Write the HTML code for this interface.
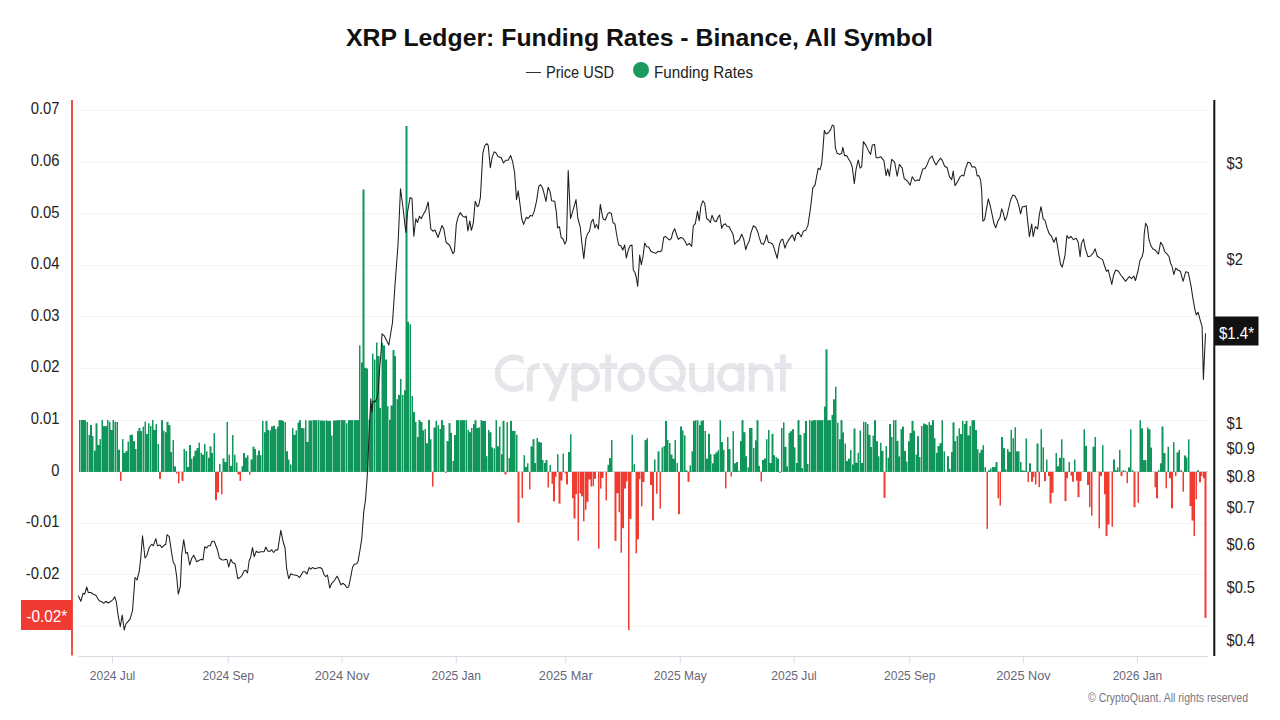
<!DOCTYPE html>
<html><head><meta charset="utf-8"><style>
html,body{margin:0;padding:0;background:#fff;width:1280px;height:720px;overflow:hidden}
svg{display:block}
text{font-family:"Liberation Sans",sans-serif}
</style></head><body>
<svg width="1280" height="720" viewBox="0 0 1280 720">
<rect width="1280" height="720" fill="#fff"/>
<text x="346" y="45.5" font-size="24.5" font-weight="bold" fill="#111" textLength="587" lengthAdjust="spacingAndGlyphs">XRP Ledger: Funding Rates - Binance, All Symbol</text>
<line x1="526" y1="72.5" x2="541" y2="72.5" stroke="#333" stroke-width="1"/>
<text x="546" y="77.5" font-size="16" fill="#222" textLength="68" lengthAdjust="spacingAndGlyphs">Price USD</text>
<circle cx="641" cy="70" r="8" fill="#1a9a5e"/>
<text x="654" y="77.5" font-size="16" fill="#222" textLength="99" lengthAdjust="spacingAndGlyphs">Funding Rates</text>
<g><line x1="78" y1="626.5" x2="1208" y2="626.5" stroke="#f4f4f4" stroke-width="1"/><line x1="78" y1="574.5" x2="1208" y2="574.5" stroke="#f4f4f4" stroke-width="1"/><line x1="78" y1="523.5" x2="1208" y2="523.5" stroke="#f4f4f4" stroke-width="1"/><line x1="78" y1="471.5" x2="1208" y2="471.5" stroke="#f4f4f4" stroke-width="1"/><line x1="78" y1="420.5" x2="1208" y2="420.5" stroke="#f4f4f4" stroke-width="1"/><line x1="78" y1="368.5" x2="1208" y2="368.5" stroke="#f4f4f4" stroke-width="1"/><line x1="78" y1="316.5" x2="1208" y2="316.5" stroke="#f4f4f4" stroke-width="1"/><line x1="78" y1="265.5" x2="1208" y2="265.5" stroke="#f4f4f4" stroke-width="1"/><line x1="78" y1="213.5" x2="1208" y2="213.5" stroke="#f4f4f4" stroke-width="1"/><line x1="78" y1="162.5" x2="1208" y2="162.5" stroke="#f4f4f4" stroke-width="1"/><line x1="78" y1="110.5" x2="1208" y2="110.5" stroke="#f4f4f4" stroke-width="1"/></g>
<g opacity="0.37"><defs><clipPath id="cc"><rect x="480" y="340" width="43.4" height="70"/></clipPath><clipPath id="yc"><rect x="535" y="363" width="40" height="38.2"/></clipPath></defs><g fill="none" stroke="#b9b9c9" stroke-width="5.8"><path d="M529.85,391.5V375C529.85,368.5 533,365.9 539.5,365.9M574.55,363V401.2M585.5,365.6A11.6,11.6 0 1 1 585.5,388.8A11.6,11.6 0 1 1 585.5,365.6M608.05,354.4V391.5M599.6,365.8H617.2M631.3,365.5A10.9,11.7 0 1 1 631.3,388.9A10.9,11.7 0 1 1 631.3,365.5M667.2,357.5A15.7,15.7 0 1 1 667.2,388.9A15.7,15.7 0 1 1 667.2,357.5M692.1,363V380A9.45,9.45 0 0 0 711,380M711,363V391.5M741.25,362.9V391.5M730.9,365.8A10.9,11.5 0 1 0 730.9,388.8A10.9,11.5 0 1 0 730.9,365.8M751.7,363V391.5M751.7,376A9.35,9.35 0 0 1 770.4,376V391.5M782.9,354.6V391.5M774.6,365.8H791.7"/><path d="M526.40,364.13A15.85,15.85 0 1 0 526.40,382.27" clip-path="url(#cc)"/><path d="M569.2,355.4L549.5,405M541.7,356.2L557.6,385.5" clip-path="url(#yc)"/></g><path d="M664.1,375.9H671.9L686.5,391.4H678.8Z" fill="#b9b9c9"/></g>
<line x1="78.5" y1="656.5" x2="1208" y2="656.5" stroke="#d8d8e2" stroke-width="1.2"/>
<line x1="112.5" y1="656.5" x2="112.5" y2="663.5" stroke="#dcdce6" stroke-width="1"/><line x1="228.25" y1="656.5" x2="228.25" y2="663.5" stroke="#dcdce6" stroke-width="1"/><line x1="342" y1="656.5" x2="342" y2="663.5" stroke="#dcdce6" stroke-width="1"/><line x1="456.25" y1="656.5" x2="456.25" y2="663.5" stroke="#dcdce6" stroke-width="1"/><line x1="565.75" y1="656.5" x2="565.75" y2="663.5" stroke="#dcdce6" stroke-width="1"/><line x1="680.25" y1="656.5" x2="680.25" y2="663.5" stroke="#dcdce6" stroke-width="1"/><line x1="794" y1="656.5" x2="794" y2="663.5" stroke="#dcdce6" stroke-width="1"/><line x1="909.75" y1="656.5" x2="909.75" y2="663.5" stroke="#dcdce6" stroke-width="1"/><line x1="1023.4" y1="656.5" x2="1023.4" y2="663.5" stroke="#dcdce6" stroke-width="1"/><line x1="1137.4" y1="656.5" x2="1137.4" y2="663.5" stroke="#dcdce6" stroke-width="1"/>
<g font-size="13" fill="#66667a" text-anchor="middle"><text x="112.5" y="680" textLength="45.5" lengthAdjust="spacingAndGlyphs">2024 Jul</text><text x="228.25" y="680" textLength="51.5" lengthAdjust="spacingAndGlyphs">2024 Sep</text><text x="342" y="680" textLength="54.5" lengthAdjust="spacingAndGlyphs">2024 Nov</text><text x="456.25" y="680" textLength="49.5" lengthAdjust="spacingAndGlyphs">2025 Jan</text><text x="565.75" y="680" textLength="53.8" lengthAdjust="spacingAndGlyphs">2025 Mar</text><text x="680.25" y="680" textLength="52.8" lengthAdjust="spacingAndGlyphs">2025 May</text><text x="794" y="680" textLength="45.5" lengthAdjust="spacingAndGlyphs">2025 Jul</text><text x="909.75" y="680" textLength="51.5" lengthAdjust="spacingAndGlyphs">2025 Sep</text><text x="1023.4" y="680" textLength="54.5" lengthAdjust="spacingAndGlyphs">2025 Nov</text><text x="1137.4" y="680" textLength="49.5" lengthAdjust="spacingAndGlyphs">2026 Jan</text></g>
<g font-size="16" fill="#222"><text x="59.5" y="630.4" text-anchor="end" textLength="33.7" lengthAdjust="spacingAndGlyphs">-0.03</text><text x="59.5" y="578.8" text-anchor="end" textLength="33.7" lengthAdjust="spacingAndGlyphs">-0.02</text><text x="59.5" y="527.2" text-anchor="end" textLength="33.7" lengthAdjust="spacingAndGlyphs">-0.01</text><text x="59.5" y="475.6" text-anchor="end" textLength="8.2" lengthAdjust="spacingAndGlyphs">0</text><text x="59.5" y="424.0" text-anchor="end" textLength="28.8" lengthAdjust="spacingAndGlyphs">0.01</text><text x="59.5" y="372.4" text-anchor="end" textLength="28.8" lengthAdjust="spacingAndGlyphs">0.02</text><text x="59.5" y="320.8" text-anchor="end" textLength="28.8" lengthAdjust="spacingAndGlyphs">0.03</text><text x="59.5" y="269.2" text-anchor="end" textLength="28.8" lengthAdjust="spacingAndGlyphs">0.04</text><text x="59.5" y="217.6" text-anchor="end" textLength="28.8" lengthAdjust="spacingAndGlyphs">0.05</text><text x="59.5" y="166.0" text-anchor="end" textLength="28.8" lengthAdjust="spacingAndGlyphs">0.06</text><text x="59.5" y="114.4" text-anchor="end" textLength="28.8" lengthAdjust="spacingAndGlyphs">0.07</text></g>
<g font-size="16" fill="#222"><text x="1226.5" y="168.8" textLength="16.3" lengthAdjust="spacingAndGlyphs">$3</text><text x="1226.5" y="264.8" textLength="16.3" lengthAdjust="spacingAndGlyphs">$2</text><text x="1226.5" y="428.9" textLength="16.3" lengthAdjust="spacingAndGlyphs">$1</text><text x="1226.5" y="453.8" textLength="28.5" lengthAdjust="spacingAndGlyphs">$0.9</text><text x="1226.5" y="481.7" textLength="28.5" lengthAdjust="spacingAndGlyphs">$0.8</text><text x="1226.5" y="513.3" textLength="28.5" lengthAdjust="spacingAndGlyphs">$0.7</text><text x="1226.5" y="549.8" textLength="28.5" lengthAdjust="spacingAndGlyphs">$0.6</text><text x="1226.5" y="592.9" textLength="28.5" lengthAdjust="spacingAndGlyphs">$0.5</text><text x="1226.5" y="645.7" textLength="28.5" lengthAdjust="spacingAndGlyphs">$0.4</text></g>
<line x1="78.5" y1="471.5" x2="1208" y2="471.5" stroke="#d9d9e5" stroke-width="1"/>
<g fill="#10955a"><rect x="79" y="420.0" width="1" height="51.9"/><rect x="80" y="420.0" width="1" height="51.9" fill-opacity="0.50"/><rect x="81" y="420.0" width="1" height="51.9"/><rect x="82" y="420.0" width="1" height="51.9"/><rect x="83" y="420.0" width="1" height="51.9"/><rect x="84" y="420.0" width="1" height="0.2" fill-opacity="0.50"/><rect x="84" y="420.2" width="1" height="51.7"/><rect x="85" y="420.2" width="1" height="51.7"/><rect x="86" y="422.0" width="1" height="49.9" fill-opacity="0.50"/><rect x="87" y="422.0" width="1" height="49.9"/><rect x="88" y="435.0" width="1" height="36.9" fill-opacity="0.50"/><rect x="89" y="435.0" width="1" height="36.9"/><rect x="90" y="425.0" width="1" height="46.9"/><rect x="91" y="425.0" width="1" height="46.9"/><rect x="92" y="436.1" width="1" height="35.8"/><rect x="93" y="436.1" width="1" height="35.8" fill-opacity="0.50"/><rect x="94" y="450.6" width="1" height="21.3"/><rect x="95" y="423.3" width="1" height="27.2" fill-opacity="0.50"/><rect x="95" y="450.6" width="1" height="21.3"/><rect x="96" y="423.3" width="1" height="48.6"/><rect x="97" y="423.3" width="1" height="21.7" fill-opacity="0.50"/><rect x="97" y="445.0" width="1" height="26.9"/><rect x="98" y="445.0" width="1" height="26.9"/><rect x="99" y="439.1" width="1" height="5.9" fill-opacity="0.50"/><rect x="99" y="445.0" width="1" height="26.9"/><rect x="100" y="439.1" width="1" height="32.8"/><rect x="101" y="420.0" width="1" height="51.9" fill-opacity="0.50"/><rect x="102" y="420.0" width="1" height="51.9"/><rect x="103" y="426.1" width="1" height="45.8"/><rect x="104" y="426.1" width="1" height="45.8"/><rect x="105" y="426.1" width="1" height="45.8"/><rect x="106" y="426.1" width="1" height="45.8"/><rect x="107" y="420.0" width="1" height="51.9"/><rect x="108" y="420.0" width="1" height="51.9" fill-opacity="0.50"/><rect x="109" y="421.7" width="1" height="50.2"/><rect x="110" y="421.7" width="1" height="8.3" fill-opacity="0.50"/><rect x="110" y="430.0" width="1" height="41.9"/><rect x="111" y="430.0" width="1" height="41.9"/><rect x="112" y="420.0" width="1" height="10.0" fill-opacity="0.50"/><rect x="112" y="430.0" width="1" height="41.9"/><rect x="113" y="420.0" width="1" height="51.9"/><rect x="114" y="421.7" width="1" height="50.2" fill-opacity="0.50"/><rect x="115" y="421.7" width="1" height="50.2"/><rect x="116" y="422.0" width="1" height="49.9" fill-opacity="0.50"/><rect x="117" y="422.0" width="1" height="49.9"/><rect x="118" y="449.8" width="1" height="22.1"/><rect x="119" y="449.8" width="1" height="22.1"/><rect x="122" y="439.1" width="1" height="32.8"/><rect x="123" y="439.1" width="1" height="13.7" fill-opacity="0.50"/><rect x="123" y="452.8" width="1" height="19.1"/><rect x="124" y="452.8" width="1" height="19.1"/><rect x="125" y="451.1" width="1" height="1.7" fill-opacity="0.50"/><rect x="125" y="452.8" width="1" height="19.1"/><rect x="126" y="451.1" width="1" height="20.8"/><rect x="127" y="441.7" width="1" height="9.4" fill-opacity="0.50"/><rect x="127" y="451.1" width="1" height="20.8"/><rect x="128" y="441.7" width="1" height="30.2"/><rect x="129" y="435.0" width="1" height="36.9" fill-opacity="0.50"/><rect x="130" y="435.0" width="1" height="36.9"/><rect x="131" y="434.7" width="1" height="37.2"/><rect x="132" y="434.7" width="1" height="37.2"/><rect x="133" y="441.1" width="1" height="30.8"/><rect x="134" y="441.1" width="1" height="30.8"/><rect x="135" y="448.9" width="1" height="23.0"/><rect x="136" y="448.9" width="1" height="23.0" fill-opacity="0.50"/><rect x="137" y="431.1" width="1" height="40.8"/><rect x="138" y="428.0" width="1" height="3.1" fill-opacity="0.50"/><rect x="138" y="431.1" width="1" height="40.8"/><rect x="139" y="428.0" width="1" height="43.9"/><rect x="140" y="428.0" width="1" height="3.1" fill-opacity="0.50"/><rect x="140" y="431.1" width="1" height="40.8"/><rect x="141" y="431.1" width="1" height="40.8"/><rect x="142" y="426.7" width="1" height="45.2" fill-opacity="0.50"/><rect x="143" y="426.7" width="1" height="45.2"/><rect x="144" y="421.7" width="1" height="50.2" fill-opacity="0.50"/><rect x="145" y="421.7" width="1" height="50.2"/><rect x="146" y="433.9" width="1" height="38.0"/><rect x="147" y="433.9" width="1" height="38.0"/><rect x="148" y="423.3" width="1" height="48.6"/><rect x="149" y="423.3" width="1" height="48.6" fill-opacity="0.50"/><rect x="150" y="426.0" width="1" height="45.9"/><rect x="151" y="426.0" width="1" height="45.9" fill-opacity="0.50"/><rect x="152" y="420.0" width="1" height="51.9"/><rect x="153" y="420.0" width="1" height="9.9" fill-opacity="0.50"/><rect x="153" y="429.9" width="1" height="42.0"/><rect x="154" y="429.9" width="1" height="42.0"/><rect x="155" y="424.1" width="1" height="5.8" fill-opacity="0.50"/><rect x="155" y="429.9" width="1" height="42.0"/><rect x="156" y="424.1" width="1" height="47.8"/><rect x="157" y="444.0" width="1" height="27.9" fill-opacity="0.50"/><rect x="158" y="444.0" width="1" height="27.9"/><rect x="161" y="420.2" width="1" height="51.7"/><rect x="162" y="420.2" width="1" height="51.7"/><rect x="163" y="430.6" width="1" height="41.3"/><rect x="164" y="430.6" width="1" height="41.3" fill-opacity="0.50"/><rect x="165" y="432.2" width="1" height="39.7"/><rect x="166" y="421.9" width="1" height="10.3" fill-opacity="0.50"/><rect x="166" y="432.2" width="1" height="39.7"/><rect x="167" y="421.9" width="1" height="50.0"/><rect x="168" y="421.9" width="1" height="3.2" fill-opacity="0.50"/><rect x="168" y="425.1" width="1" height="46.8"/><rect x="169" y="425.1" width="1" height="46.8"/><rect x="170" y="425.1" width="1" height="26.9" fill-opacity="0.50"/><rect x="170" y="452.0" width="1" height="19.9"/><rect x="171" y="452.0" width="1" height="19.9"/><rect x="172" y="440.1" width="1" height="31.8" fill-opacity="0.50"/><rect x="173" y="440.1" width="1" height="31.8"/><rect x="174" y="466.4" width="1" height="5.5"/><rect x="175" y="466.4" width="1" height="5.5"/><rect x="183" y="448.9" width="1" height="23.0" fill-opacity="0.50"/><rect x="184" y="448.9" width="1" height="23.0"/><rect x="185" y="451.0" width="1" height="20.9" fill-opacity="0.50"/><rect x="186" y="451.0" width="1" height="20.9"/><rect x="187" y="466.9" width="1" height="5.0"/><rect x="188" y="466.9" width="1" height="5.0"/><rect x="189" y="445.0" width="1" height="26.9"/><rect x="190" y="445.0" width="1" height="26.9"/><rect x="191" y="458.6" width="1" height="13.3"/><rect x="192" y="458.6" width="1" height="13.3" fill-opacity="0.50"/><rect x="193" y="456.2" width="1" height="15.7"/><rect x="194" y="450.6" width="1" height="5.5" fill-opacity="0.50"/><rect x="194" y="456.2" width="1" height="15.7"/><rect x="195" y="450.6" width="1" height="21.3"/><rect x="196" y="448.1" width="1" height="2.5" fill-opacity="0.50"/><rect x="196" y="450.6" width="1" height="21.3"/><rect x="197" y="448.1" width="1" height="23.8"/><rect x="198" y="442.6" width="1" height="5.5" fill-opacity="0.50"/><rect x="198" y="448.1" width="1" height="23.8"/><rect x="199" y="442.6" width="1" height="29.3"/><rect x="200" y="452.8" width="1" height="19.1" fill-opacity="0.50"/><rect x="201" y="452.8" width="1" height="19.1"/><rect x="202" y="454.7" width="1" height="17.2"/><rect x="203" y="454.7" width="1" height="17.2"/><rect x="204" y="444.0" width="1" height="27.9"/><rect x="205" y="444.0" width="1" height="27.9" fill-opacity="0.50"/><rect x="206" y="451.3" width="1" height="20.6"/><rect x="207" y="451.3" width="1" height="20.6" fill-opacity="0.50"/><rect x="208" y="457.8" width="1" height="14.1"/><rect x="209" y="446.4" width="1" height="11.4" fill-opacity="0.50"/><rect x="209" y="457.8" width="1" height="14.1"/><rect x="210" y="446.4" width="1" height="25.5"/><rect x="211" y="446.4" width="1" height="6.5" fill-opacity="0.50"/><rect x="211" y="453.0" width="1" height="18.9"/><rect x="212" y="453.0" width="1" height="18.9"/><rect x="213" y="433.1" width="1" height="38.8" fill-opacity="0.50"/><rect x="214" y="433.1" width="1" height="38.8"/><rect x="219" y="463.9" width="1" height="8.0"/><rect x="220" y="463.9" width="1" height="8.0" fill-opacity="0.50"/><rect x="222" y="458.4" width="1" height="13.5" fill-opacity="0.50"/><rect x="223" y="458.4" width="1" height="13.5"/><rect x="224" y="458.4" width="1" height="3.6" fill-opacity="0.50"/><rect x="224" y="462.0" width="1" height="9.9"/><rect x="225" y="462.0" width="1" height="9.9"/><rect x="226" y="421.9" width="1" height="40.1" fill-opacity="0.50"/><rect x="226" y="462.0" width="1" height="9.9"/><rect x="227" y="421.9" width="1" height="50.0"/><rect x="228" y="454.7" width="1" height="17.2" fill-opacity="0.50"/><rect x="229" y="454.7" width="1" height="17.2"/><rect x="230" y="465.9" width="1" height="6.0"/><rect x="231" y="465.9" width="1" height="6.0"/><rect x="232" y="435.1" width="1" height="36.8"/><rect x="233" y="435.1" width="1" height="36.8" fill-opacity="0.50"/><rect x="234" y="454.7" width="1" height="17.2"/><rect x="235" y="454.7" width="1" height="17.2" fill-opacity="0.50"/><rect x="236" y="462.5" width="1" height="9.4"/><rect x="237" y="462.5" width="1" height="9.4" fill-opacity="0.50"/><rect x="241" y="466.2" width="1" height="5.7" fill-opacity="0.50"/><rect x="242" y="466.2" width="1" height="5.7"/><rect x="243" y="453.0" width="1" height="18.9"/><rect x="244" y="453.0" width="1" height="18.9"/><rect x="245" y="457.6" width="1" height="14.3"/><rect x="246" y="457.6" width="1" height="14.3"/><rect x="247" y="455.2" width="1" height="16.7"/><rect x="248" y="455.2" width="1" height="16.7" fill-opacity="0.50"/><rect x="250" y="459.4" width="1" height="12.5" fill-opacity="0.50"/><rect x="251" y="459.4" width="1" height="12.5"/><rect x="252" y="446.7" width="1" height="12.6" fill-opacity="0.50"/><rect x="252" y="459.4" width="1" height="12.5"/><rect x="253" y="446.7" width="1" height="25.2"/><rect x="254" y="446.7" width="1" height="2.1" fill-opacity="0.50"/><rect x="254" y="448.9" width="1" height="23.0"/><rect x="255" y="448.9" width="1" height="23.0"/><rect x="256" y="455.2" width="1" height="16.7" fill-opacity="0.50"/><rect x="257" y="455.2" width="1" height="16.7"/><rect x="258" y="450.6" width="1" height="21.3"/><rect x="259" y="450.6" width="1" height="21.3"/><rect x="260" y="455.2" width="1" height="16.7"/><rect x="261" y="455.2" width="1" height="16.7" fill-opacity="0.50"/><rect x="262" y="420.9" width="1" height="51.0"/><rect x="263" y="420.9" width="1" height="51.0" fill-opacity="0.50"/><rect x="264" y="432.2" width="1" height="39.7"/><rect x="265" y="420.9" width="1" height="11.3" fill-opacity="0.50"/><rect x="265" y="432.2" width="1" height="39.7"/><rect x="266" y="420.9" width="1" height="51.0"/><rect x="267" y="420.9" width="1" height="9.0" fill-opacity="0.50"/><rect x="267" y="429.9" width="1" height="42.0"/><rect x="268" y="429.9" width="1" height="42.0"/><rect x="269" y="430.4" width="1" height="41.5" fill-opacity="0.50"/><rect x="270" y="430.4" width="1" height="41.5"/><rect x="271" y="426.5" width="1" height="45.4"/><rect x="272" y="426.5" width="1" height="45.4"/><rect x="273" y="425.7" width="1" height="46.2"/><rect x="274" y="425.7" width="1" height="46.2"/><rect x="275" y="429.0" width="1" height="42.9"/><rect x="276" y="429.0" width="1" height="42.9" fill-opacity="0.50"/><rect x="277" y="426.7" width="1" height="45.2"/><rect x="278" y="420.2" width="1" height="6.5" fill-opacity="0.50"/><rect x="278" y="426.7" width="1" height="45.2"/><rect x="279" y="420.2" width="1" height="51.7"/><rect x="280" y="420.2" width="1" height="51.7"/><rect x="281" y="420.2" width="1" height="51.7"/><rect x="282" y="420.2" width="1" height="0.7" fill-opacity="0.50"/><rect x="282" y="420.9" width="1" height="51.0"/><rect x="283" y="420.9" width="1" height="51.0"/><rect x="284" y="422.1" width="1" height="49.8" fill-opacity="0.50"/><rect x="285" y="422.1" width="1" height="49.8"/><rect x="286" y="451.3" width="1" height="20.6"/><rect x="287" y="451.3" width="1" height="20.6"/><rect x="288" y="459.6" width="1" height="12.3"/><rect x="289" y="459.6" width="1" height="12.3" fill-opacity="0.50"/><rect x="290" y="464.4" width="1" height="7.5"/><rect x="291" y="464.4" width="1" height="7.5" fill-opacity="0.50"/><rect x="292" y="428.0" width="1" height="43.9"/><rect x="293" y="428.0" width="1" height="6.8" fill-opacity="0.50"/><rect x="293" y="434.8" width="1" height="37.1"/><rect x="294" y="434.8" width="1" height="37.1"/><rect x="295" y="430.4" width="1" height="4.4" fill-opacity="0.50"/><rect x="295" y="434.8" width="1" height="37.1"/><rect x="296" y="430.4" width="1" height="41.5"/><rect x="297" y="422.6" width="1" height="49.3" fill-opacity="0.50"/><rect x="298" y="422.6" width="1" height="49.3"/><rect x="299" y="420.2" width="1" height="51.7"/><rect x="300" y="420.2" width="1" height="51.7"/><rect x="301" y="428.0" width="1" height="43.9"/><rect x="302" y="428.0" width="1" height="43.9"/><rect x="303" y="428.3" width="1" height="43.6"/><rect x="304" y="428.3" width="1" height="43.6" fill-opacity="0.50"/><rect x="305" y="420.2" width="1" height="51.7"/><rect x="306" y="420.2" width="1" height="21.7" fill-opacity="0.50"/><rect x="306" y="441.9" width="1" height="30.0"/><rect x="307" y="441.9" width="1" height="30.0"/><rect x="308" y="420.5" width="1" height="21.4" fill-opacity="0.50"/><rect x="308" y="441.9" width="1" height="30.0"/><rect x="309" y="420.5" width="1" height="51.4"/><rect x="310" y="420.5" width="1" height="51.4"/><rect x="311" y="420.5" width="1" height="51.4"/><rect x="312" y="420.2" width="1" height="51.7" fill-opacity="0.50"/><rect x="313" y="420.2" width="1" height="51.7"/><rect x="314" y="420.2" width="1" height="51.7"/><rect x="315" y="420.2" width="1" height="51.7"/><rect x="316" y="420.2" width="1" height="51.7"/><rect x="317" y="420.2" width="1" height="51.7" fill-opacity="0.50"/><rect x="318" y="420.2" width="1" height="51.7"/><rect x="319" y="420.2" width="1" height="51.7" fill-opacity="0.50"/><rect x="320" y="420.5" width="1" height="51.4"/><rect x="321" y="420.5" width="1" height="51.4"/><rect x="322" y="420.5" width="1" height="51.4"/><rect x="323" y="420.5" width="1" height="0.4" fill-opacity="0.50"/><rect x="323" y="420.9" width="1" height="51.0"/><rect x="324" y="420.9" width="1" height="51.0"/><rect x="325" y="420.2" width="1" height="51.7" fill-opacity="0.50"/><rect x="326" y="420.2" width="1" height="51.7"/><rect x="327" y="420.9" width="1" height="51.0"/><rect x="328" y="420.9" width="1" height="51.0"/><rect x="329" y="420.9" width="1" height="51.0"/><rect x="330" y="420.9" width="1" height="51.0"/><rect x="331" y="435.5" width="1" height="36.4"/><rect x="332" y="435.5" width="1" height="36.4" fill-opacity="0.50"/><rect x="333" y="420.5" width="1" height="51.4"/><rect x="334" y="420.5" width="1" height="51.4"/><rect x="335" y="420.5" width="1" height="51.4"/><rect x="336" y="420.2" width="1" height="0.3" fill-opacity="0.50"/><rect x="336" y="420.5" width="1" height="51.4"/><rect x="337" y="420.2" width="1" height="51.7"/><rect x="338" y="420.2" width="1" height="51.7"/><rect x="339" y="420.2" width="1" height="51.7"/><rect x="340" y="420.1" width="1" height="51.8" fill-opacity="0.50"/><rect x="341" y="420.1" width="1" height="51.8"/><rect x="342" y="420.1" width="1" height="51.8"/><rect x="343" y="420.1" width="1" height="51.8"/><rect x="344" y="420.1" width="1" height="51.8"/><rect x="345" y="420.1" width="1" height="51.8" fill-opacity="0.50"/><rect x="346" y="423.2" width="1" height="48.7"/><rect x="347" y="423.2" width="1" height="48.7" fill-opacity="0.50"/><rect x="348" y="420.1" width="1" height="51.8"/><rect x="349" y="420.1" width="1" height="51.8"/><rect x="350" y="420.1" width="1" height="51.8"/><rect x="351" y="420.1" width="1" height="51.8"/><rect x="352" y="420.1" width="1" height="51.8"/><rect x="353" y="420.1" width="1" height="51.8" fill-opacity="0.50"/><rect x="354" y="420.1" width="1" height="51.8"/><rect x="355" y="420.1" width="1" height="51.8"/><rect x="356" y="420.1" width="1" height="51.8"/><rect x="357" y="420.1" width="1" height="51.8"/><rect x="358" y="420.1" width="1" height="51.8"/><rect x="359" y="345.4" width="1" height="126.5"/><rect x="360" y="345.4" width="1" height="126.5" fill-opacity="0.50"/><rect x="361" y="362.4" width="1" height="109.5"/><rect x="362" y="189.5" width="1" height="172.9" fill-opacity="0.50"/><rect x="362" y="362.4" width="1" height="109.5"/><rect x="363" y="189.5" width="1" height="282.4"/><rect x="364" y="189.5" width="1" height="178.3" fill-opacity="0.50"/><rect x="364" y="367.8" width="1" height="104.1"/><rect x="365" y="367.8" width="1" height="104.1"/><rect x="366" y="367.8" width="1" height="0.7" fill-opacity="0.50"/><rect x="366" y="368.5" width="1" height="103.4"/><rect x="367" y="368.5" width="1" height="103.4"/><rect x="368" y="419.7" width="1" height="52.2" fill-opacity="0.50"/><rect x="369" y="419.7" width="1" height="52.2"/><rect x="370" y="404.3" width="1" height="67.6"/><rect x="371" y="404.3" width="1" height="67.6"/><rect x="372" y="353.6" width="1" height="118.3"/><rect x="373" y="353.6" width="1" height="118.3" fill-opacity="0.50"/><rect x="374" y="359.5" width="1" height="112.4"/><rect x="375" y="359.5" width="1" height="112.4" fill-opacity="0.50"/><rect x="376" y="342.5" width="1" height="129.4"/><rect x="377" y="342.5" width="1" height="13.4" fill-opacity="0.50"/><rect x="377" y="356.0" width="1" height="115.9"/><rect x="378" y="356.0" width="1" height="115.9"/><rect x="379" y="356.0" width="1" height="51.9" fill-opacity="0.50"/><rect x="379" y="407.9" width="1" height="64.0"/><rect x="380" y="407.9" width="1" height="64.0"/><rect x="381" y="343.0" width="1" height="128.9" fill-opacity="0.50"/><rect x="382" y="343.0" width="1" height="128.9"/><rect x="383" y="345.4" width="1" height="126.5"/><rect x="384" y="345.4" width="1" height="126.5"/><rect x="385" y="359.5" width="1" height="112.4"/><rect x="386" y="359.5" width="1" height="112.4"/><rect x="387" y="406.2" width="1" height="65.7"/><rect x="388" y="406.2" width="1" height="65.7" fill-opacity="0.50"/><rect x="389" y="419.7" width="1" height="52.2"/><rect x="390" y="405.5" width="1" height="14.2" fill-opacity="0.50"/><rect x="390" y="419.7" width="1" height="52.2"/><rect x="391" y="405.5" width="1" height="66.4"/><rect x="392" y="350.1" width="1" height="55.4" fill-opacity="0.50"/><rect x="392" y="405.5" width="1" height="66.4"/><rect x="393" y="350.1" width="1" height="121.8"/><rect x="394" y="350.1" width="1" height="5.9" fill-opacity="0.50"/><rect x="394" y="356.0" width="1" height="115.9"/><rect x="395" y="356.0" width="1" height="115.9"/><rect x="396" y="399.2" width="1" height="72.7" fill-opacity="0.50"/><rect x="397" y="399.2" width="1" height="72.7"/><rect x="398" y="394.9" width="1" height="77.0"/><rect x="399" y="394.9" width="1" height="77.0"/><rect x="400" y="378.9" width="1" height="93.0"/><rect x="401" y="378.9" width="1" height="93.0" fill-opacity="0.50"/><rect x="402" y="394.9" width="1" height="77.0"/><rect x="403" y="394.9" width="1" height="77.0" fill-opacity="0.50"/><rect x="404" y="390.2" width="1" height="81.7"/><rect x="405" y="126.0" width="1" height="264.2" fill-opacity="0.50"/><rect x="405" y="390.2" width="1" height="81.7"/><rect x="406" y="126.0" width="1" height="345.9"/><rect x="407" y="126.0" width="1" height="195.8" fill-opacity="0.50"/><rect x="407" y="321.8" width="1" height="150.1"/><rect x="408" y="321.8" width="1" height="150.1"/><rect x="409" y="324.2" width="1" height="147.7" fill-opacity="0.50"/><rect x="410" y="324.2" width="1" height="147.7"/><rect x="411" y="396.1" width="1" height="75.8" fill-opacity="0.50"/><rect x="412" y="396.1" width="1" height="75.8"/><rect x="413" y="411.9" width="1" height="60.0"/><rect x="414" y="411.9" width="1" height="60.0"/><rect x="415" y="422.0" width="1" height="49.9"/><rect x="416" y="422.0" width="1" height="49.9" fill-opacity="0.50"/><rect x="417" y="436.9" width="1" height="35.0"/><rect x="418" y="420.1" width="1" height="16.7" fill-opacity="0.50"/><rect x="418" y="436.9" width="1" height="35.0"/><rect x="419" y="420.1" width="1" height="51.8"/><rect x="420" y="420.1" width="1" height="1.9" fill-opacity="0.50"/><rect x="420" y="422.0" width="1" height="49.9"/><rect x="421" y="422.0" width="1" height="49.9"/><rect x="422" y="422.0" width="1" height="8.3" fill-opacity="0.50"/><rect x="422" y="430.3" width="1" height="41.6"/><rect x="423" y="430.3" width="1" height="41.6"/><rect x="424" y="429.1" width="1" height="42.8" fill-opacity="0.50"/><rect x="425" y="429.1" width="1" height="42.8"/><rect x="426" y="443.3" width="1" height="28.6"/><rect x="427" y="443.3" width="1" height="28.6"/><rect x="428" y="420.1" width="1" height="51.8"/><rect x="429" y="420.1" width="1" height="51.8"/><rect x="430" y="439.2" width="1" height="32.7"/><rect x="431" y="439.2" width="1" height="32.7" fill-opacity="0.50"/><rect x="433" y="427.5" width="1" height="44.4" fill-opacity="0.50"/><rect x="434" y="427.5" width="1" height="44.4"/><rect x="435" y="420.8" width="1" height="6.6" fill-opacity="0.50"/><rect x="435" y="427.5" width="1" height="44.4"/><rect x="436" y="420.8" width="1" height="51.1"/><rect x="437" y="425.1" width="1" height="46.8" fill-opacity="0.50"/><rect x="438" y="425.1" width="1" height="46.8"/><rect x="439" y="429.0" width="1" height="42.9" fill-opacity="0.50"/><rect x="440" y="429.0" width="1" height="42.9"/><rect x="441" y="420.2" width="1" height="51.7"/><rect x="442" y="420.2" width="1" height="51.7"/><rect x="443" y="425.1" width="1" height="46.8"/><rect x="444" y="425.1" width="1" height="46.8" fill-opacity="0.50"/><rect x="446" y="441.1" width="1" height="30.8" fill-opacity="0.50"/><rect x="447" y="441.1" width="1" height="30.8"/><rect x="448" y="423.1" width="1" height="18.0" fill-opacity="0.50"/><rect x="448" y="441.1" width="1" height="30.8"/><rect x="449" y="423.1" width="1" height="48.8"/><rect x="450" y="423.1" width="1" height="9.7" fill-opacity="0.50"/><rect x="450" y="432.8" width="1" height="39.1"/><rect x="451" y="432.8" width="1" height="39.1"/><rect x="452" y="461.0" width="1" height="10.9" fill-opacity="0.50"/><rect x="453" y="461.0" width="1" height="10.9"/><rect x="454" y="435.1" width="1" height="36.8"/><rect x="455" y="435.1" width="1" height="36.8"/><rect x="456" y="420.2" width="1" height="51.7"/><rect x="457" y="420.2" width="1" height="51.7"/><rect x="458" y="420.2" width="1" height="51.7"/><rect x="459" y="420.2" width="1" height="51.7" fill-opacity="0.50"/><rect x="460" y="420.2" width="1" height="51.7"/><rect x="461" y="420.2" width="1" height="51.7"/><rect x="462" y="420.2" width="1" height="51.7"/><rect x="463" y="420.2" width="1" height="51.7"/><rect x="464" y="420.2" width="1" height="51.7"/><rect x="465" y="420.2" width="1" height="51.7" fill-opacity="0.50"/><rect x="466" y="420.2" width="1" height="51.7"/><rect x="467" y="429.9" width="1" height="42.0" fill-opacity="0.50"/><rect x="468" y="429.9" width="1" height="42.0"/><rect x="469" y="432.2" width="1" height="39.7"/><rect x="470" y="432.2" width="1" height="39.7"/><rect x="471" y="428.0" width="1" height="43.9"/><rect x="472" y="428.0" width="1" height="43.9" fill-opacity="0.50"/><rect x="473" y="424.1" width="1" height="47.8"/><rect x="474" y="420.2" width="1" height="3.9" fill-opacity="0.50"/><rect x="474" y="424.1" width="1" height="47.8"/><rect x="475" y="420.2" width="1" height="51.7"/><rect x="476" y="420.2" width="1" height="7.8" fill-opacity="0.50"/><rect x="476" y="428.0" width="1" height="43.9"/><rect x="477" y="428.0" width="1" height="43.9"/><rect x="478" y="427.3" width="1" height="0.7" fill-opacity="0.50"/><rect x="478" y="428.0" width="1" height="43.9"/><rect x="479" y="427.3" width="1" height="44.6"/><rect x="480" y="420.2" width="1" height="51.7" fill-opacity="0.50"/><rect x="481" y="420.2" width="1" height="51.7"/><rect x="482" y="420.9" width="1" height="51.0"/><rect x="483" y="420.9" width="1" height="51.0"/><rect x="484" y="420.9" width="1" height="51.0"/><rect x="485" y="420.9" width="1" height="51.0"/><rect x="486" y="456.2" width="1" height="15.7"/><rect x="487" y="456.2" width="1" height="15.7" fill-opacity="0.50"/><rect x="488" y="429.9" width="1" height="42.0"/><rect x="489" y="429.9" width="1" height="2.2" fill-opacity="0.50"/><rect x="489" y="432.2" width="1" height="39.7"/><rect x="490" y="432.2" width="1" height="39.7"/><rect x="491" y="432.2" width="1" height="15.3" fill-opacity="0.50"/><rect x="491" y="447.4" width="1" height="24.5"/><rect x="492" y="447.4" width="1" height="24.5"/><rect x="493" y="448.4" width="1" height="23.5" fill-opacity="0.50"/><rect x="494" y="448.4" width="1" height="23.5"/><rect x="495" y="420.2" width="1" height="51.7" fill-opacity="0.50"/><rect x="496" y="420.2" width="1" height="51.7"/><rect x="497" y="446.2" width="1" height="25.7"/><rect x="498" y="446.2" width="1" height="25.7"/><rect x="499" y="426.5" width="1" height="45.4"/><rect x="500" y="426.5" width="1" height="45.4" fill-opacity="0.50"/><rect x="501" y="454.2" width="1" height="17.7"/><rect x="502" y="420.9" width="1" height="33.3" fill-opacity="0.50"/><rect x="502" y="454.2" width="1" height="17.7"/><rect x="503" y="420.9" width="1" height="51.0"/><rect x="504" y="420.9" width="1" height="51.0" fill-opacity="0.50"/><rect x="506" y="422.1" width="1" height="49.8" fill-opacity="0.50"/><rect x="507" y="422.1" width="1" height="49.8"/><rect x="508" y="458.1" width="1" height="13.8" fill-opacity="0.50"/><rect x="509" y="458.1" width="1" height="13.8"/><rect x="510" y="420.9" width="1" height="51.0"/><rect x="511" y="420.9" width="1" height="51.0"/><rect x="512" y="430.9" width="1" height="41.0"/><rect x="513" y="430.9" width="1" height="41.0"/><rect x="514" y="430.9" width="1" height="41.0"/><rect x="515" y="430.9" width="1" height="41.0" fill-opacity="0.50"/><rect x="516" y="434.8" width="1" height="37.1"/><rect x="517" y="434.8" width="1" height="37.1" fill-opacity="0.50"/><rect x="523" y="455.2" width="1" height="16.7" fill-opacity="0.50"/><rect x="524" y="455.2" width="1" height="16.7"/><rect x="525" y="466.9" width="1" height="5.0"/><rect x="526" y="466.9" width="1" height="5.0"/><rect x="527" y="463.3" width="1" height="8.6"/><rect x="528" y="463.3" width="1" height="8.6" fill-opacity="0.50"/><rect x="530" y="446.4" width="1" height="25.5" fill-opacity="0.50"/><rect x="531" y="446.4" width="1" height="25.5"/><rect x="532" y="439.2" width="1" height="7.3" fill-opacity="0.50"/><rect x="532" y="446.4" width="1" height="25.5"/><rect x="533" y="439.2" width="1" height="32.7"/><rect x="534" y="439.2" width="1" height="23.8" fill-opacity="0.50"/><rect x="534" y="463.0" width="1" height="8.9"/><rect x="535" y="463.0" width="1" height="8.9"/><rect x="536" y="438.0" width="1" height="33.9" fill-opacity="0.50"/><rect x="537" y="438.0" width="1" height="33.9"/><rect x="538" y="441.9" width="1" height="30.0"/><rect x="539" y="441.9" width="1" height="30.0"/><rect x="540" y="442.6" width="1" height="29.3"/><rect x="541" y="442.6" width="1" height="29.3"/><rect x="542" y="460.0" width="1" height="11.9"/><rect x="543" y="460.0" width="1" height="11.9" fill-opacity="0.50"/><rect x="544" y="463.0" width="1" height="8.9"/><rect x="545" y="460.0" width="1" height="2.9" fill-opacity="0.50"/><rect x="545" y="463.0" width="1" height="8.9"/><rect x="546" y="460.0" width="1" height="11.9"/><rect x="547" y="460.0" width="1" height="11.9" fill-opacity="0.50"/><rect x="549" y="464.9" width="1" height="7.0" fill-opacity="0.50"/><rect x="550" y="464.9" width="1" height="7.0"/><rect x="557" y="454.2" width="1" height="17.7"/><rect x="558" y="454.2" width="1" height="17.7" fill-opacity="0.50"/><rect x="562" y="453.7" width="1" height="18.2" fill-opacity="0.50"/><rect x="563" y="453.7" width="1" height="18.2"/><rect x="568" y="452.0" width="1" height="19.9"/><rect x="569" y="452.0" width="1" height="19.9"/><rect x="570" y="434.3" width="1" height="37.6"/><rect x="571" y="434.3" width="1" height="37.6" fill-opacity="0.50"/><rect x="607" y="464.9" width="1" height="7.0" fill-opacity="0.50"/><rect x="608" y="464.9" width="1" height="7.0"/><rect x="609" y="458.1" width="1" height="13.8"/><rect x="610" y="458.1" width="1" height="13.8"/><rect x="611" y="440.1" width="1" height="31.8"/><rect x="612" y="440.1" width="1" height="31.8" fill-opacity="0.50"/><rect x="631" y="434.8" width="1" height="37.1" fill-opacity="0.50"/><rect x="632" y="434.8" width="1" height="37.1"/><rect x="633" y="464.2" width="1" height="7.7" fill-opacity="0.50"/><rect x="634" y="464.2" width="1" height="7.7"/><rect x="644" y="440.1" width="1" height="31.8" fill-opacity="0.50"/><rect x="645" y="440.1" width="1" height="31.8"/><rect x="646" y="438.2" width="1" height="1.9" fill-opacity="0.50"/><rect x="646" y="440.1" width="1" height="31.8"/><rect x="647" y="438.2" width="1" height="33.7"/><rect x="654" y="459.4" width="1" height="12.5"/><rect x="655" y="459.4" width="1" height="12.5" fill-opacity="0.50"/><rect x="657" y="451.3" width="1" height="20.6" fill-opacity="0.50"/><rect x="658" y="451.3" width="1" height="20.6"/><rect x="659" y="451.3" width="1" height="20.6" fill-opacity="0.50"/><rect x="661" y="447.4" width="1" height="24.5" fill-opacity="0.50"/><rect x="662" y="447.4" width="1" height="24.5"/><rect x="663" y="446.0" width="1" height="25.9" fill-opacity="0.50"/><rect x="664" y="446.0" width="1" height="25.9"/><rect x="665" y="420.9" width="1" height="51.0"/><rect x="666" y="420.9" width="1" height="51.0"/><rect x="667" y="440.1" width="1" height="31.8"/><rect x="668" y="440.1" width="1" height="31.8" fill-opacity="0.50"/><rect x="669" y="443.0" width="1" height="28.9"/><rect x="670" y="443.0" width="1" height="11.5" fill-opacity="0.50"/><rect x="670" y="454.5" width="1" height="17.4"/><rect x="671" y="454.5" width="1" height="17.4"/><rect x="672" y="454.5" width="1" height="4.1" fill-opacity="0.50"/><rect x="672" y="458.6" width="1" height="13.3"/><rect x="673" y="458.6" width="1" height="13.3"/><rect x="674" y="440.1" width="1" height="18.5" fill-opacity="0.50"/><rect x="674" y="458.6" width="1" height="13.3"/><rect x="675" y="440.1" width="1" height="31.8"/><rect x="676" y="463.0" width="1" height="8.9" fill-opacity="0.50"/><rect x="677" y="463.0" width="1" height="8.9"/><rect x="680" y="426.5" width="1" height="45.4"/><rect x="681" y="426.5" width="1" height="45.4"/><rect x="682" y="430.4" width="1" height="41.5"/><rect x="683" y="430.4" width="1" height="41.5" fill-opacity="0.50"/><rect x="684" y="435.3" width="1" height="36.6"/><rect x="685" y="435.3" width="1" height="35.0" fill-opacity="0.50"/><rect x="685" y="470.3" width="1" height="1.6"/><rect x="686" y="470.3" width="1" height="1.6"/><rect x="687" y="470.3" width="1" height="1.6" fill-opacity="0.50"/><rect x="689" y="465.4" width="1" height="6.5" fill-opacity="0.50"/><rect x="690" y="465.4" width="1" height="6.5"/><rect x="691" y="451.3" width="1" height="20.6" fill-opacity="0.50"/><rect x="692" y="451.3" width="1" height="20.6"/><rect x="693" y="420.9" width="1" height="51.0"/><rect x="694" y="420.9" width="1" height="51.0"/><rect x="695" y="420.2" width="1" height="51.7"/><rect x="696" y="420.2" width="1" height="51.7" fill-opacity="0.50"/><rect x="697" y="420.2" width="1" height="51.7"/><rect x="698" y="420.2" width="1" height="51.7" fill-opacity="0.50"/><rect x="699" y="425.1" width="1" height="46.8"/><rect x="700" y="420.9" width="1" height="4.2" fill-opacity="0.50"/><rect x="700" y="425.1" width="1" height="46.8"/><rect x="701" y="420.9" width="1" height="51.0"/><rect x="702" y="420.2" width="1" height="0.7" fill-opacity="0.50"/><rect x="702" y="420.9" width="1" height="51.0"/><rect x="703" y="420.2" width="1" height="51.7"/><rect x="704" y="430.9" width="1" height="41.0" fill-opacity="0.50"/><rect x="705" y="430.9" width="1" height="41.0"/><rect x="706" y="458.6" width="1" height="13.3"/><rect x="707" y="458.6" width="1" height="13.3"/><rect x="708" y="433.8" width="1" height="38.1"/><rect x="709" y="433.8" width="1" height="38.1"/><rect x="710" y="454.2" width="1" height="17.7"/><rect x="711" y="454.2" width="1" height="17.7" fill-opacity="0.50"/><rect x="712" y="463.3" width="1" height="8.6"/><rect x="713" y="454.2" width="1" height="9.0" fill-opacity="0.50"/><rect x="713" y="463.3" width="1" height="8.6"/><rect x="714" y="454.2" width="1" height="17.7"/><rect x="715" y="452.3" width="1" height="1.9" fill-opacity="0.50"/><rect x="715" y="454.2" width="1" height="17.7"/><rect x="716" y="452.3" width="1" height="19.6"/><rect x="717" y="450.3" width="1" height="1.9" fill-opacity="0.50"/><rect x="717" y="452.3" width="1" height="19.6"/><rect x="718" y="450.3" width="1" height="21.6"/><rect x="719" y="420.2" width="1" height="51.7" fill-opacity="0.50"/><rect x="720" y="420.2" width="1" height="51.7"/><rect x="721" y="442.1" width="1" height="29.8"/><rect x="722" y="442.1" width="1" height="29.8"/><rect x="723" y="449.8" width="1" height="22.1"/><rect x="724" y="449.8" width="1" height="22.1" fill-opacity="0.50"/><rect x="727" y="437.0" width="1" height="34.9"/><rect x="728" y="437.0" width="1" height="12.1" fill-opacity="0.50"/><rect x="728" y="449.1" width="1" height="22.8"/><rect x="729" y="449.1" width="1" height="22.8"/><rect x="730" y="449.1" width="1" height="22.8" fill-opacity="0.50"/><rect x="732" y="431.2" width="1" height="40.7" fill-opacity="0.50"/><rect x="733" y="431.2" width="1" height="40.7"/><rect x="734" y="463.3" width="1" height="8.6"/><rect x="735" y="463.3" width="1" height="8.6"/><rect x="736" y="462.0" width="1" height="9.9"/><rect x="737" y="462.0" width="1" height="9.9"/><rect x="738" y="470.7" width="1" height="1.2"/><rect x="739" y="470.7" width="1" height="1.2" fill-opacity="0.50"/><rect x="740" y="441.1" width="1" height="30.8"/><rect x="741" y="420.2" width="1" height="20.9" fill-opacity="0.50"/><rect x="741" y="441.1" width="1" height="30.8"/><rect x="742" y="420.2" width="1" height="51.7"/><rect x="743" y="420.2" width="1" height="12.0" fill-opacity="0.50"/><rect x="743" y="432.2" width="1" height="39.7"/><rect x="744" y="432.2" width="1" height="39.7"/><rect x="745" y="432.2" width="1" height="24.0" fill-opacity="0.50"/><rect x="745" y="456.2" width="1" height="15.7"/><rect x="746" y="456.2" width="1" height="15.7"/><rect x="747" y="467.3" width="1" height="4.6" fill-opacity="0.50"/><rect x="748" y="467.3" width="1" height="4.6"/><rect x="749" y="428.0" width="1" height="43.9"/><rect x="750" y="428.0" width="1" height="43.9"/><rect x="751" y="428.0" width="1" height="43.9"/><rect x="752" y="428.0" width="1" height="43.9" fill-opacity="0.50"/><rect x="753" y="447.9" width="1" height="24.0"/><rect x="754" y="447.9" width="1" height="24.0" fill-opacity="0.50"/><rect x="755" y="440.3" width="1" height="31.6"/><rect x="756" y="420.2" width="1" height="20.1" fill-opacity="0.50"/><rect x="756" y="440.3" width="1" height="31.6"/><rect x="757" y="420.2" width="1" height="51.7"/><rect x="758" y="420.2" width="1" height="45.7" fill-opacity="0.50"/><rect x="758" y="465.9" width="1" height="6.0"/><rect x="759" y="465.9" width="1" height="6.0"/><rect x="762" y="460.0" width="1" height="11.9"/><rect x="763" y="460.0" width="1" height="11.9"/><rect x="764" y="458.4" width="1" height="13.5"/><rect x="765" y="458.4" width="1" height="13.5"/><rect x="766" y="439.2" width="1" height="32.7"/><rect x="767" y="439.2" width="1" height="32.7" fill-opacity="0.50"/><rect x="768" y="429.9" width="1" height="42.0"/><rect x="769" y="429.9" width="1" height="33.0" fill-opacity="0.50"/><rect x="769" y="463.0" width="1" height="8.9"/><rect x="770" y="463.0" width="1" height="8.9"/><rect x="771" y="433.8" width="1" height="29.2" fill-opacity="0.50"/><rect x="771" y="463.0" width="1" height="8.9"/><rect x="772" y="433.8" width="1" height="38.1"/><rect x="773" y="433.8" width="1" height="21.4" fill-opacity="0.50"/><rect x="773" y="455.2" width="1" height="16.7"/><rect x="774" y="455.2" width="1" height="16.7"/><rect x="775" y="457.1" width="1" height="14.8" fill-opacity="0.50"/><rect x="776" y="457.1" width="1" height="14.8"/><rect x="777" y="458.6" width="1" height="13.3"/><rect x="778" y="458.6" width="1" height="13.3"/><rect x="781" y="428.0" width="1" height="43.9"/><rect x="782" y="428.0" width="1" height="43.9" fill-opacity="0.50"/><rect x="783" y="422.4" width="1" height="49.5"/><rect x="784" y="422.4" width="1" height="24.3" fill-opacity="0.50"/><rect x="784" y="446.7" width="1" height="25.2"/><rect x="785" y="446.7" width="1" height="25.2"/><rect x="786" y="446.7" width="1" height="19.6" fill-opacity="0.50"/><rect x="786" y="466.4" width="1" height="5.5"/><rect x="787" y="466.4" width="1" height="5.5"/><rect x="788" y="432.8" width="1" height="39.1" fill-opacity="0.50"/><rect x="789" y="432.8" width="1" height="39.1"/><rect x="790" y="431.2" width="1" height="40.7"/><rect x="791" y="431.2" width="1" height="40.7"/><rect x="792" y="429.2" width="1" height="42.7"/><rect x="793" y="429.2" width="1" height="42.7"/><rect x="794" y="447.4" width="1" height="24.5"/><rect x="795" y="447.4" width="1" height="24.5" fill-opacity="0.50"/><rect x="796" y="463.0" width="1" height="8.9"/><rect x="797" y="420.2" width="1" height="42.8" fill-opacity="0.50"/><rect x="797" y="463.0" width="1" height="8.9"/><rect x="798" y="420.2" width="1" height="51.7"/><rect x="799" y="420.2" width="1" height="14.6" fill-opacity="0.50"/><rect x="799" y="434.8" width="1" height="37.1"/><rect x="800" y="434.8" width="1" height="37.1"/><rect x="801" y="434.8" width="1" height="33.3" fill-opacity="0.50"/><rect x="801" y="468.1" width="1" height="3.8"/><rect x="802" y="468.1" width="1" height="3.8"/><rect x="803" y="433.1" width="1" height="38.8" fill-opacity="0.50"/><rect x="804" y="433.1" width="1" height="38.8"/><rect x="805" y="420.9" width="1" height="51.0"/><rect x="806" y="420.9" width="1" height="51.0"/><rect x="807" y="463.9" width="1" height="8.0"/><rect x="808" y="463.9" width="1" height="8.0" fill-opacity="0.50"/><rect x="809" y="420.2" width="1" height="51.7"/><rect x="810" y="420.2" width="1" height="51.7" fill-opacity="0.50"/><rect x="811" y="420.9" width="1" height="51.0"/><rect x="812" y="420.2" width="1" height="0.7" fill-opacity="0.50"/><rect x="812" y="420.9" width="1" height="51.0"/><rect x="813" y="420.2" width="1" height="51.7"/><rect x="814" y="420.2" width="1" height="0.0" fill-opacity="0.50"/><rect x="814" y="420.2" width="1" height="51.7"/><rect x="815" y="420.2" width="1" height="51.7"/><rect x="816" y="420.2" width="1" height="51.7" fill-opacity="0.50"/><rect x="817" y="420.2" width="1" height="51.7"/><rect x="818" y="420.2" width="1" height="51.7"/><rect x="819" y="420.2" width="1" height="51.7"/><rect x="820" y="420.2" width="1" height="51.7"/><rect x="821" y="420.2" width="1" height="51.7"/><rect x="822" y="420.2" width="1" height="51.7"/><rect x="823" y="420.2" width="1" height="51.7" fill-opacity="0.50"/><rect x="824" y="406.5" width="1" height="65.4"/><rect x="825" y="349.3" width="1" height="57.2" fill-opacity="0.50"/><rect x="825" y="406.5" width="1" height="65.4"/><rect x="826" y="349.3" width="1" height="122.6"/><rect x="827" y="349.3" width="1" height="70.8" fill-opacity="0.50"/><rect x="827" y="420.2" width="1" height="51.7"/><rect x="828" y="420.2" width="1" height="51.7"/><rect x="829" y="420.2" width="1" height="51.7"/><rect x="830" y="420.2" width="1" height="51.7"/><rect x="831" y="414.9" width="1" height="57.0" fill-opacity="0.50"/><rect x="832" y="414.9" width="1" height="57.0"/><rect x="833" y="399.3" width="1" height="72.6"/><rect x="834" y="399.3" width="1" height="72.6"/><rect x="835" y="386.7" width="1" height="85.2"/><rect x="836" y="386.7" width="1" height="85.2" fill-opacity="0.50"/><rect x="837" y="422.7" width="1" height="49.2"/><rect x="838" y="422.7" width="1" height="49.2" fill-opacity="0.50"/><rect x="839" y="439.2" width="1" height="32.7"/><rect x="840" y="420.2" width="1" height="19.1" fill-opacity="0.50"/><rect x="840" y="439.2" width="1" height="32.7"/><rect x="841" y="420.2" width="1" height="51.7"/><rect x="842" y="420.2" width="1" height="12.3" fill-opacity="0.50"/><rect x="842" y="432.4" width="1" height="39.5"/><rect x="843" y="432.4" width="1" height="39.5"/><rect x="844" y="443.5" width="1" height="28.4" fill-opacity="0.50"/><rect x="845" y="443.5" width="1" height="28.4"/><rect x="846" y="461.0" width="1" height="10.9"/><rect x="847" y="461.0" width="1" height="10.9"/><rect x="848" y="458.7" width="1" height="13.2"/><rect x="849" y="458.7" width="1" height="13.2"/><rect x="850" y="449.9" width="1" height="22.0"/><rect x="851" y="449.9" width="1" height="22.0" fill-opacity="0.50"/><rect x="852" y="464.5" width="1" height="7.4"/><rect x="853" y="428.5" width="1" height="36.0" fill-opacity="0.50"/><rect x="853" y="464.5" width="1" height="7.4"/><rect x="854" y="428.5" width="1" height="43.4"/><rect x="855" y="428.5" width="1" height="34.0" fill-opacity="0.50"/><rect x="855" y="462.6" width="1" height="9.3"/><rect x="856" y="462.6" width="1" height="9.3"/><rect x="857" y="452.8" width="1" height="9.7" fill-opacity="0.50"/><rect x="857" y="462.6" width="1" height="9.3"/><rect x="858" y="452.8" width="1" height="19.1"/><rect x="859" y="430.5" width="1" height="41.4" fill-opacity="0.50"/><rect x="860" y="430.5" width="1" height="41.4"/><rect x="861" y="463.0" width="1" height="8.9"/><rect x="862" y="463.0" width="1" height="8.9"/><rect x="863" y="421.7" width="1" height="50.2"/><rect x="864" y="421.7" width="1" height="50.2" fill-opacity="0.50"/><rect x="865" y="422.1" width="1" height="49.8"/><rect x="866" y="422.1" width="1" height="49.8" fill-opacity="0.50"/><rect x="867" y="424.0" width="1" height="47.9"/><rect x="868" y="424.0" width="1" height="10.9" fill-opacity="0.50"/><rect x="868" y="434.9" width="1" height="37.0"/><rect x="869" y="434.9" width="1" height="37.0"/><rect x="870" y="434.9" width="1" height="12.1" fill-opacity="0.50"/><rect x="870" y="447.0" width="1" height="24.9"/><rect x="871" y="447.0" width="1" height="24.9"/><rect x="872" y="435.7" width="1" height="36.2" fill-opacity="0.50"/><rect x="873" y="435.7" width="1" height="36.2"/><rect x="874" y="420.2" width="1" height="51.7"/><rect x="875" y="420.2" width="1" height="51.7"/><rect x="876" y="441.2" width="1" height="30.7"/><rect x="877" y="441.2" width="1" height="30.7"/><rect x="878" y="456.3" width="1" height="15.6"/><rect x="879" y="456.3" width="1" height="15.6" fill-opacity="0.50"/><rect x="880" y="442.7" width="1" height="29.2"/><rect x="881" y="442.7" width="1" height="8.2" fill-opacity="0.50"/><rect x="881" y="450.9" width="1" height="21.0"/><rect x="882" y="450.9" width="1" height="21.0"/><rect x="883" y="450.9" width="1" height="21.0" fill-opacity="0.50"/><rect x="885" y="446.0" width="1" height="25.9" fill-opacity="0.50"/><rect x="886" y="446.0" width="1" height="25.9"/><rect x="887" y="457.7" width="1" height="14.2" fill-opacity="0.50"/><rect x="888" y="457.7" width="1" height="14.2"/><rect x="889" y="424.0" width="1" height="47.9"/><rect x="890" y="424.0" width="1" height="47.9"/><rect x="891" y="436.9" width="1" height="35.0"/><rect x="892" y="436.9" width="1" height="35.0" fill-opacity="0.50"/><rect x="893" y="420.2" width="1" height="51.7"/><rect x="894" y="420.2" width="1" height="51.7" fill-opacity="0.50"/><rect x="895" y="420.2" width="1" height="51.7"/><rect x="896" y="420.2" width="1" height="20.6" fill-opacity="0.50"/><rect x="896" y="440.8" width="1" height="31.1"/><rect x="897" y="440.8" width="1" height="31.1"/><rect x="898" y="440.8" width="1" height="15.6" fill-opacity="0.50"/><rect x="898" y="456.3" width="1" height="15.6"/><rect x="899" y="456.3" width="1" height="15.6"/><rect x="900" y="429.1" width="1" height="42.8" fill-opacity="0.50"/><rect x="901" y="429.1" width="1" height="42.8"/><rect x="902" y="426.6" width="1" height="45.3"/><rect x="903" y="426.6" width="1" height="45.3"/><rect x="904" y="450.9" width="1" height="21.0"/><rect x="905" y="450.9" width="1" height="21.0"/><rect x="906" y="461.6" width="1" height="10.3"/><rect x="907" y="461.6" width="1" height="10.3" fill-opacity="0.50"/><rect x="908" y="441.2" width="1" height="30.7"/><rect x="909" y="433.0" width="1" height="8.2" fill-opacity="0.50"/><rect x="909" y="441.2" width="1" height="30.7"/><rect x="910" y="433.0" width="1" height="38.9"/><rect x="911" y="420.9" width="1" height="12.1" fill-opacity="0.50"/><rect x="911" y="433.0" width="1" height="38.9"/><rect x="912" y="420.9" width="1" height="51.0"/><rect x="913" y="420.9" width="1" height="9.7" fill-opacity="0.50"/><rect x="913" y="430.6" width="1" height="41.3"/><rect x="914" y="430.6" width="1" height="41.3"/><rect x="915" y="454.5" width="1" height="17.4" fill-opacity="0.50"/><rect x="916" y="454.5" width="1" height="17.4"/><rect x="917" y="436.2" width="1" height="35.7"/><rect x="918" y="436.2" width="1" height="35.7"/><rect x="919" y="457.1" width="1" height="14.8"/><rect x="920" y="457.1" width="1" height="14.8" fill-opacity="0.50"/><rect x="921" y="426.0" width="1" height="45.9"/><rect x="922" y="426.0" width="1" height="45.9" fill-opacity="0.50"/><rect x="923" y="423.4" width="1" height="48.5"/><rect x="924" y="423.4" width="1" height="0.7" fill-opacity="0.50"/><rect x="924" y="424.1" width="1" height="47.8"/><rect x="925" y="424.1" width="1" height="47.8"/><rect x="926" y="424.1" width="1" height="1.0" fill-opacity="0.50"/><rect x="926" y="425.1" width="1" height="46.8"/><rect x="927" y="425.1" width="1" height="46.8"/><rect x="928" y="422.1" width="1" height="49.8" fill-opacity="0.50"/><rect x="929" y="422.1" width="1" height="49.8"/><rect x="930" y="425.1" width="1" height="46.8"/><rect x="931" y="425.1" width="1" height="46.8"/><rect x="932" y="420.2" width="1" height="51.7"/><rect x="933" y="420.2" width="1" height="51.7"/><rect x="934" y="438.2" width="1" height="33.7"/><rect x="935" y="438.2" width="1" height="33.7" fill-opacity="0.50"/><rect x="936" y="452.8" width="1" height="19.1"/><rect x="937" y="446.0" width="1" height="6.8" fill-opacity="0.50"/><rect x="937" y="452.8" width="1" height="19.1"/><rect x="938" y="446.0" width="1" height="25.9"/><rect x="939" y="443.2" width="1" height="2.7" fill-opacity="0.50"/><rect x="939" y="446.0" width="1" height="25.9"/><rect x="940" y="443.2" width="1" height="28.7"/><rect x="941" y="420.2" width="1" height="23.0" fill-opacity="0.50"/><rect x="941" y="443.2" width="1" height="28.7"/><rect x="942" y="420.2" width="1" height="51.7"/><rect x="943" y="451.3" width="1" height="20.6" fill-opacity="0.50"/><rect x="944" y="451.3" width="1" height="20.6"/><rect x="947" y="456.2" width="1" height="15.7"/><rect x="948" y="456.2" width="1" height="15.7"/><rect x="949" y="468.8" width="1" height="3.1"/><rect x="950" y="468.8" width="1" height="3.1" fill-opacity="0.50"/><rect x="951" y="452.0" width="1" height="19.9"/><rect x="952" y="422.4" width="1" height="29.5" fill-opacity="0.50"/><rect x="952" y="452.0" width="1" height="19.9"/><rect x="953" y="422.4" width="1" height="49.5"/><rect x="954" y="422.4" width="1" height="18.7" fill-opacity="0.50"/><rect x="954" y="441.1" width="1" height="30.8"/><rect x="955" y="441.1" width="1" height="30.8"/><rect x="956" y="436.0" width="1" height="35.9" fill-opacity="0.50"/><rect x="957" y="436.0" width="1" height="35.9"/><rect x="958" y="428.3" width="1" height="43.6" fill-opacity="0.50"/><rect x="959" y="428.3" width="1" height="43.6"/><rect x="960" y="434.1" width="1" height="37.8"/><rect x="961" y="434.1" width="1" height="37.8"/><rect x="962" y="420.9" width="1" height="51.0"/><rect x="963" y="420.9" width="1" height="51.0" fill-opacity="0.50"/><rect x="964" y="424.1" width="1" height="47.8"/><rect x="965" y="420.9" width="1" height="3.2" fill-opacity="0.50"/><rect x="965" y="424.1" width="1" height="47.8"/><rect x="966" y="420.9" width="1" height="51.0"/><rect x="967" y="420.9" width="1" height="14.4" fill-opacity="0.50"/><rect x="967" y="435.3" width="1" height="36.6"/><rect x="968" y="435.3" width="1" height="36.6"/><rect x="969" y="426.0" width="1" height="9.2" fill-opacity="0.50"/><rect x="969" y="435.3" width="1" height="36.6"/><rect x="970" y="426.0" width="1" height="45.9"/><rect x="971" y="420.2" width="1" height="51.7" fill-opacity="0.50"/><rect x="972" y="420.2" width="1" height="51.7"/><rect x="973" y="420.2" width="1" height="51.7"/><rect x="974" y="420.2" width="1" height="51.7"/><rect x="975" y="429.9" width="1" height="42.0"/><rect x="976" y="429.9" width="1" height="42.0"/><rect x="977" y="449.1" width="1" height="22.8"/><rect x="978" y="449.1" width="1" height="22.8" fill-opacity="0.50"/><rect x="979" y="452.8" width="1" height="19.1"/><rect x="980" y="449.8" width="1" height="2.9" fill-opacity="0.50"/><rect x="980" y="452.8" width="1" height="19.1"/><rect x="981" y="449.8" width="1" height="22.1"/><rect x="982" y="445.2" width="1" height="4.7" fill-opacity="0.50"/><rect x="982" y="449.8" width="1" height="22.1"/><rect x="983" y="445.2" width="1" height="26.7"/><rect x="984" y="467.1" width="1" height="4.8" fill-opacity="0.50"/><rect x="985" y="467.1" width="1" height="4.8"/><rect x="988" y="470.3" width="1" height="1.6"/><rect x="989" y="470.3" width="1" height="1.6"/><rect x="990" y="468.3" width="1" height="3.6"/><rect x="991" y="468.3" width="1" height="3.6" fill-opacity="0.50"/><rect x="992" y="467.1" width="1" height="4.8"/><rect x="993" y="467.1" width="1" height="4.8"/><rect x="994" y="467.1" width="1" height="4.8"/><rect x="995" y="462.0" width="1" height="5.2" fill-opacity="0.50"/><rect x="995" y="467.1" width="1" height="4.8"/><rect x="996" y="462.0" width="1" height="9.9"/><rect x="997" y="462.0" width="1" height="9.9" fill-opacity="0.50"/><rect x="1001" y="437.0" width="1" height="34.9"/><rect x="1002" y="437.0" width="1" height="34.9"/><rect x="1003" y="448.1" width="1" height="23.8"/><rect x="1004" y="448.1" width="1" height="23.8"/><rect x="1005" y="469.3" width="1" height="2.6"/><rect x="1006" y="469.3" width="1" height="2.6" fill-opacity="0.50"/><rect x="1007" y="449.1" width="1" height="22.8"/><rect x="1008" y="449.1" width="1" height="2.7" fill-opacity="0.50"/><rect x="1008" y="451.8" width="1" height="20.1"/><rect x="1009" y="451.8" width="1" height="20.1"/><rect x="1010" y="429.9" width="1" height="21.9" fill-opacity="0.50"/><rect x="1010" y="451.8" width="1" height="20.1"/><rect x="1011" y="429.9" width="1" height="42.0"/><rect x="1012" y="438.2" width="1" height="33.7" fill-opacity="0.50"/><rect x="1013" y="438.2" width="1" height="33.7"/><rect x="1014" y="427.3" width="1" height="44.6" fill-opacity="0.50"/><rect x="1015" y="427.3" width="1" height="44.6"/><rect x="1016" y="451.3" width="1" height="20.6"/><rect x="1017" y="451.3" width="1" height="20.6"/><rect x="1018" y="451.3" width="1" height="20.6"/><rect x="1019" y="451.3" width="1" height="20.6" fill-opacity="0.50"/><rect x="1020" y="462.0" width="1" height="9.9"/><rect x="1021" y="462.0" width="1" height="8.3" fill-opacity="0.50"/><rect x="1021" y="470.3" width="1" height="1.6"/><rect x="1022" y="470.3" width="1" height="1.6"/><rect x="1023" y="470.3" width="1" height="0.5" fill-opacity="0.50"/><rect x="1023" y="470.7" width="1" height="1.2"/><rect x="1024" y="470.7" width="1" height="1.2"/><rect x="1025" y="438.4" width="1" height="32.4" fill-opacity="0.50"/><rect x="1025" y="470.7" width="1" height="1.2"/><rect x="1026" y="438.4" width="1" height="33.5"/><rect x="1029" y="463.3" width="1" height="8.6"/><rect x="1030" y="463.3" width="1" height="8.6"/><rect x="1036" y="443.5" width="1" height="28.4" fill-opacity="0.50"/><rect x="1037" y="443.5" width="1" height="28.4"/><rect x="1038" y="443.5" width="1" height="28.4" fill-opacity="0.50"/><rect x="1040" y="429.2" width="1" height="42.7" fill-opacity="0.50"/><rect x="1041" y="429.2" width="1" height="42.7"/><rect x="1042" y="447.4" width="1" height="24.5" fill-opacity="0.50"/><rect x="1043" y="447.4" width="1" height="24.5"/><rect x="1046" y="459.6" width="1" height="12.3"/><rect x="1047" y="459.6" width="1" height="12.3" fill-opacity="0.50"/><rect x="1055" y="453.0" width="1" height="18.9" fill-opacity="0.50"/><rect x="1056" y="453.0" width="1" height="18.9"/><rect x="1057" y="466.2" width="1" height="5.7"/><rect x="1058" y="466.2" width="1" height="5.7"/><rect x="1059" y="457.8" width="1" height="14.1"/><rect x="1060" y="457.8" width="1" height="14.1"/><rect x="1061" y="439.3" width="1" height="32.6"/><rect x="1062" y="439.3" width="1" height="32.6" fill-opacity="0.50"/><rect x="1063" y="457.8" width="1" height="14.1"/><rect x="1064" y="457.8" width="1" height="14.1" fill-opacity="0.50"/><rect x="1068" y="462.0" width="1" height="9.9" fill-opacity="0.50"/><rect x="1069" y="462.0" width="1" height="9.9"/><rect x="1074" y="459.6" width="1" height="12.3"/><rect x="1075" y="459.6" width="1" height="12.3" fill-opacity="0.50"/><rect x="1083" y="429.2" width="1" height="42.7" fill-opacity="0.50"/><rect x="1084" y="429.2" width="1" height="42.7"/><rect x="1085" y="445.8" width="1" height="26.1"/><rect x="1086" y="445.8" width="1" height="26.1"/><rect x="1092" y="446.7" width="1" height="25.2" fill-opacity="0.50"/><rect x="1093" y="446.7" width="1" height="25.2"/><rect x="1094" y="437.0" width="1" height="9.7" fill-opacity="0.50"/><rect x="1094" y="446.7" width="1" height="25.2"/><rect x="1095" y="437.0" width="1" height="34.9"/><rect x="1102" y="445.2" width="1" height="26.7"/><rect x="1103" y="445.2" width="1" height="26.7" fill-opacity="0.50"/><rect x="1113" y="459.4" width="1" height="12.5"/><rect x="1114" y="459.4" width="1" height="12.5"/><rect x="1115" y="470.3" width="1" height="1.6"/><rect x="1116" y="470.3" width="1" height="1.6"/><rect x="1117" y="467.4" width="1" height="4.5"/><rect x="1118" y="467.4" width="1" height="4.5" fill-opacity="0.50"/><rect x="1119" y="449.9" width="1" height="22.0"/><rect x="1120" y="449.9" width="1" height="22.0" fill-opacity="0.50"/><rect x="1122" y="470.1" width="1" height="1.8" fill-opacity="0.50"/><rect x="1123" y="470.1" width="1" height="1.8"/><rect x="1124" y="470.8" width="1" height="1.1" fill-opacity="0.50"/><rect x="1125" y="470.8" width="1" height="1.1"/><rect x="1128" y="467.4" width="1" height="4.5"/><rect x="1129" y="467.4" width="1" height="4.5"/><rect x="1130" y="429.3" width="1" height="42.6"/><rect x="1131" y="429.3" width="1" height="42.6" fill-opacity="0.50"/><rect x="1132" y="470.3" width="1" height="1.6"/><rect x="1133" y="470.3" width="1" height="1.6" fill-opacity="0.50"/><rect x="1139" y="420.2" width="1" height="51.7" fill-opacity="0.50"/><rect x="1140" y="420.2" width="1" height="51.7"/><rect x="1141" y="428.3" width="1" height="43.6"/><rect x="1142" y="428.3" width="1" height="43.6"/><rect x="1143" y="460.1" width="1" height="11.8"/><rect x="1144" y="460.1" width="1" height="11.8"/><rect x="1145" y="460.1" width="1" height="11.8"/><rect x="1146" y="460.1" width="1" height="11.8" fill-opacity="0.50"/><rect x="1147" y="427.5" width="1" height="44.4"/><rect x="1148" y="427.5" width="1" height="1.8" fill-opacity="0.50"/><rect x="1148" y="429.3" width="1" height="42.6"/><rect x="1149" y="429.3" width="1" height="42.6"/><rect x="1150" y="429.3" width="1" height="18.2" fill-opacity="0.50"/><rect x="1150" y="447.5" width="1" height="24.4"/><rect x="1151" y="447.5" width="1" height="24.4"/><rect x="1158" y="470.1" width="1" height="1.8"/><rect x="1159" y="470.1" width="1" height="1.8" fill-opacity="0.50"/><rect x="1160" y="463.3" width="1" height="8.6"/><rect x="1161" y="426.5" width="1" height="36.8" fill-opacity="0.50"/><rect x="1161" y="463.3" width="1" height="8.6"/><rect x="1162" y="426.5" width="1" height="45.4"/><rect x="1163" y="426.5" width="1" height="26.5" fill-opacity="0.50"/><rect x="1163" y="453.0" width="1" height="18.9"/><rect x="1164" y="453.0" width="1" height="18.9"/><rect x="1165" y="453.0" width="1" height="18.9" fill-opacity="0.50"/><rect x="1167" y="446.8" width="1" height="25.1" fill-opacity="0.50"/><rect x="1168" y="446.8" width="1" height="25.1"/><rect x="1173" y="442.1" width="1" height="29.8"/><rect x="1174" y="442.1" width="1" height="29.8" fill-opacity="0.50"/><rect x="1176" y="452.3" width="1" height="19.6" fill-opacity="0.50"/><rect x="1177" y="452.3" width="1" height="19.6"/><rect x="1178" y="449.9" width="1" height="2.4" fill-opacity="0.50"/><rect x="1178" y="452.3" width="1" height="19.6"/><rect x="1179" y="449.9" width="1" height="22.0"/><rect x="1180" y="470.1" width="1" height="1.8" fill-opacity="0.50"/><rect x="1181" y="470.1" width="1" height="1.8"/><rect x="1184" y="455.5" width="1" height="16.4"/><rect x="1185" y="455.5" width="1" height="16.4"/><rect x="1186" y="457.5" width="1" height="14.4"/><rect x="1187" y="457.5" width="1" height="14.4" fill-opacity="0.50"/><rect x="1188" y="439.4" width="1" height="32.5"/><rect x="1189" y="439.4" width="1" height="32.5" fill-opacity="0.50"/><rect x="1197" y="470.3" width="1" height="1.6"/><rect x="1198" y="470.3" width="1" height="1.6"/></g>
<g fill="#f23b30"><rect x="120" y="471.9" width="1" height="9.0"/><rect x="121" y="471.9" width="1" height="9.0" fill-opacity="0.50"/><rect x="159" y="471.9" width="1" height="6.9"/><rect x="160" y="471.9" width="1" height="6.9"/><rect x="176" y="471.9" width="1" height="1.7"/><rect x="177" y="471.9" width="1" height="1.7" fill-opacity="0.50"/><rect x="178" y="471.9" width="1" height="11.5"/><rect x="179" y="471.9" width="1" height="11.5" fill-opacity="0.50"/><rect x="181" y="471.9" width="1" height="9.0" fill-opacity="0.50"/><rect x="182" y="471.9" width="1" height="9.0"/><rect x="183" y="471.9" width="1" height="9.0" fill-opacity="0.50"/><rect x="215" y="471.9" width="1" height="28.3"/><rect x="216" y="471.9" width="1" height="28.3"/><rect x="217" y="471.9" width="1" height="20.4"/><rect x="218" y="471.9" width="1" height="20.4"/><rect x="221" y="471.9" width="1" height="22.5"/><rect x="222" y="471.9" width="1" height="22.5" fill-opacity="0.50"/><rect x="237" y="471.9" width="1" height="2.5" fill-opacity="0.50"/><rect x="238" y="471.9" width="1" height="2.5"/><rect x="239" y="474.4" width="1" height="6.6" fill-opacity="0.50"/><rect x="239" y="471.9" width="1" height="2.5"/><rect x="240" y="471.9" width="1" height="9.0"/><rect x="249" y="471.9" width="1" height="2.8"/><rect x="250" y="471.9" width="1" height="2.8" fill-opacity="0.50"/><rect x="432" y="471.9" width="1" height="14.7"/><rect x="433" y="471.9" width="1" height="14.7" fill-opacity="0.50"/><rect x="445" y="471.9" width="1" height="1.0"/><rect x="446" y="471.9" width="1" height="1.0" fill-opacity="0.50"/><rect x="504" y="471.9" width="1" height="2.5" fill-opacity="0.50"/><rect x="505" y="471.9" width="1" height="2.5"/><rect x="506" y="471.9" width="1" height="2.5" fill-opacity="0.50"/><rect x="517" y="471.9" width="1" height="50.7" fill-opacity="0.50"/><rect x="518" y="471.9" width="1" height="50.7"/><rect x="519" y="471.9" width="1" height="50.7" fill-opacity="0.50"/><rect x="521" y="471.9" width="1" height="26.2" fill-opacity="0.50"/><rect x="522" y="471.9" width="1" height="26.2"/><rect x="529" y="471.9" width="1" height="17.4"/><rect x="530" y="471.9" width="1" height="17.4" fill-opacity="0.50"/><rect x="547" y="471.9" width="1" height="15.6" fill-opacity="0.50"/><rect x="548" y="471.9" width="1" height="15.6"/><rect x="551" y="471.9" width="1" height="11.9" fill-opacity="0.50"/><rect x="552" y="471.9" width="1" height="11.9"/><rect x="553" y="471.9" width="1" height="29.5"/><rect x="554" y="471.9" width="1" height="29.5"/><rect x="555" y="471.9" width="1" height="4.9"/><rect x="556" y="471.9" width="1" height="4.9" fill-opacity="0.50"/><rect x="558" y="471.9" width="1" height="31.7" fill-opacity="0.50"/><rect x="559" y="471.9" width="1" height="31.7"/><rect x="560" y="480.6" width="1" height="23.1" fill-opacity="0.50"/><rect x="560" y="471.9" width="1" height="8.7"/><rect x="561" y="471.9" width="1" height="8.7"/><rect x="562" y="471.9" width="1" height="8.7" fill-opacity="0.50"/><rect x="564" y="471.9" width="1" height="1.4" fill-opacity="0.50"/><rect x="565" y="471.9" width="1" height="1.4"/><rect x="566" y="471.9" width="1" height="12.5"/><rect x="567" y="471.9" width="1" height="12.5"/><rect x="572" y="471.9" width="1" height="26.4"/><rect x="573" y="498.3" width="1" height="20.1" fill-opacity="0.50"/><rect x="573" y="471.9" width="1" height="26.4"/><rect x="574" y="471.9" width="1" height="46.6"/><rect x="575" y="494.2" width="1" height="24.3" fill-opacity="0.50"/><rect x="575" y="471.9" width="1" height="22.3"/><rect x="576" y="471.9" width="1" height="22.3"/><rect x="577" y="471.9" width="1" height="68.8" fill-opacity="0.50"/><rect x="578" y="471.9" width="1" height="68.8"/><rect x="579" y="471.9" width="1" height="21.6" fill-opacity="0.50"/><rect x="580" y="471.9" width="1" height="21.6"/><rect x="581" y="471.9" width="1" height="24.4"/><rect x="582" y="471.9" width="1" height="24.4"/><rect x="583" y="471.9" width="1" height="49.4"/><rect x="584" y="471.9" width="1" height="49.4" fill-opacity="0.50"/><rect x="585" y="471.9" width="1" height="37.9"/><rect x="586" y="501.8" width="1" height="8.0" fill-opacity="0.50"/><rect x="586" y="471.9" width="1" height="29.9"/><rect x="587" y="471.9" width="1" height="29.9"/><rect x="588" y="479.6" width="1" height="22.2" fill-opacity="0.50"/><rect x="588" y="471.9" width="1" height="7.7"/><rect x="589" y="471.9" width="1" height="7.7"/><rect x="590" y="479.6" width="1" height="6.9" fill-opacity="0.50"/><rect x="590" y="471.9" width="1" height="7.7"/><rect x="591" y="471.9" width="1" height="14.6"/><rect x="592" y="471.9" width="1" height="14.3" fill-opacity="0.50"/><rect x="593" y="471.9" width="1" height="14.3"/><rect x="594" y="471.9" width="1" height="6.8"/><rect x="595" y="471.9" width="1" height="6.8"/><rect x="598" y="471.9" width="1" height="76.8"/><rect x="599" y="471.9" width="1" height="76.8" fill-opacity="0.50"/><rect x="600" y="471.9" width="1" height="16.7"/><rect x="601" y="478.0" width="1" height="10.6" fill-opacity="0.50"/><rect x="601" y="471.9" width="1" height="6.1"/><rect x="602" y="471.9" width="1" height="6.1"/><rect x="603" y="471.9" width="1" height="6.1" fill-opacity="0.50"/><rect x="605" y="471.9" width="1" height="28.5" fill-opacity="0.50"/><rect x="606" y="471.9" width="1" height="28.5"/><rect x="614" y="471.9" width="1" height="69.0" fill-opacity="0.50"/><rect x="615" y="471.9" width="1" height="69.0"/><rect x="616" y="493.3" width="1" height="47.6" fill-opacity="0.50"/><rect x="616" y="471.9" width="1" height="21.4"/><rect x="617" y="471.9" width="1" height="21.4"/><rect x="618" y="493.3" width="1" height="18.9" fill-opacity="0.50"/><rect x="618" y="471.9" width="1" height="21.4"/><rect x="619" y="471.9" width="1" height="40.3"/><rect x="620" y="471.9" width="1" height="80.8" fill-opacity="0.50"/><rect x="621" y="471.9" width="1" height="80.8"/><rect x="622" y="471.9" width="1" height="56.3"/><rect x="623" y="471.9" width="1" height="56.3"/><rect x="624" y="471.9" width="1" height="16.7"/><rect x="625" y="471.9" width="1" height="16.7"/><rect x="626" y="471.9" width="1" height="9.6"/><rect x="627" y="471.9" width="1" height="9.6" fill-opacity="0.50"/><rect x="628" y="471.9" width="1" height="158.2"/><rect x="629" y="518.8" width="1" height="111.3" fill-opacity="0.50"/><rect x="629" y="471.9" width="1" height="46.9"/><rect x="630" y="471.9" width="1" height="46.9"/><rect x="631" y="471.9" width="1" height="46.9" fill-opacity="0.50"/><rect x="635" y="471.9" width="1" height="81.5" fill-opacity="0.50"/><rect x="636" y="471.9" width="1" height="81.5"/><rect x="637" y="471.9" width="1" height="67.4"/><rect x="638" y="471.9" width="1" height="67.4"/><rect x="639" y="471.9" width="1" height="7.3"/><rect x="640" y="471.9" width="1" height="7.3" fill-opacity="0.50"/><rect x="641" y="471.9" width="1" height="34.4"/><rect x="642" y="482.0" width="1" height="24.3" fill-opacity="0.50"/><rect x="642" y="471.9" width="1" height="10.1"/><rect x="643" y="471.9" width="1" height="10.1"/><rect x="644" y="471.9" width="1" height="10.1" fill-opacity="0.50"/><rect x="650" y="471.9" width="1" height="13.1"/><rect x="651" y="471.9" width="1" height="13.1"/><rect x="652" y="471.9" width="1" height="48.5"/><rect x="653" y="471.9" width="1" height="48.5"/><rect x="656" y="471.9" width="1" height="21.9"/><rect x="657" y="471.9" width="1" height="21.9" fill-opacity="0.50"/><rect x="659" y="471.9" width="1" height="36.7" fill-opacity="0.50"/><rect x="660" y="471.9" width="1" height="36.7"/><rect x="678" y="471.9" width="1" height="42.2"/><rect x="679" y="471.9" width="1" height="42.2"/><rect x="687" y="471.9" width="1" height="10.0" fill-opacity="0.50"/><rect x="688" y="471.9" width="1" height="10.0"/><rect x="689" y="471.9" width="1" height="10.0" fill-opacity="0.50"/><rect x="725" y="471.9" width="1" height="16.5"/><rect x="726" y="471.9" width="1" height="16.5" fill-opacity="0.50"/><rect x="730" y="471.9" width="1" height="4.7" fill-opacity="0.50"/><rect x="731" y="471.9" width="1" height="4.7"/><rect x="760" y="471.9" width="1" height="9.6" fill-opacity="0.50"/><rect x="761" y="471.9" width="1" height="9.6"/><rect x="779" y="471.9" width="1" height="1.1"/><rect x="780" y="471.9" width="1" height="1.1" fill-opacity="0.50"/><rect x="883" y="471.9" width="1" height="25.9" fill-opacity="0.50"/><rect x="884" y="471.9" width="1" height="25.9"/><rect x="885" y="471.9" width="1" height="25.9" fill-opacity="0.50"/><rect x="986" y="471.9" width="1" height="57.0" fill-opacity="0.50"/><rect x="987" y="471.9" width="1" height="57.0"/><rect x="997" y="471.9" width="1" height="26.4" fill-opacity="0.50"/><rect x="998" y="471.9" width="1" height="26.4"/><rect x="999" y="471.9" width="1" height="33.7" fill-opacity="0.50"/><rect x="1000" y="471.9" width="1" height="33.7"/><rect x="1027" y="471.9" width="1" height="10.3" fill-opacity="0.50"/><rect x="1028" y="471.9" width="1" height="10.3"/><rect x="1031" y="471.9" width="1" height="9.8"/><rect x="1032" y="471.9" width="1" height="9.8"/><rect x="1033" y="471.9" width="1" height="5.3"/><rect x="1034" y="471.9" width="1" height="5.3" fill-opacity="0.50"/><rect x="1035" y="471.9" width="1" height="12.5"/><rect x="1036" y="471.9" width="1" height="12.5" fill-opacity="0.50"/><rect x="1038" y="471.9" width="1" height="15.3" fill-opacity="0.50"/><rect x="1039" y="471.9" width="1" height="15.3"/><rect x="1044" y="471.9" width="1" height="9.2"/><rect x="1045" y="471.9" width="1" height="9.2"/><rect x="1048" y="471.9" width="1" height="4.2"/><rect x="1049" y="476.1" width="1" height="27.2" fill-opacity="0.50"/><rect x="1049" y="471.9" width="1" height="4.2"/><rect x="1050" y="471.9" width="1" height="31.4"/><rect x="1051" y="492.8" width="1" height="10.6" fill-opacity="0.50"/><rect x="1051" y="471.9" width="1" height="20.9"/><rect x="1052" y="471.9" width="1" height="20.9"/><rect x="1053" y="471.9" width="1" height="20.9" fill-opacity="0.50"/><rect x="1064" y="471.9" width="1" height="29.2" fill-opacity="0.50"/><rect x="1065" y="471.9" width="1" height="29.2"/><rect x="1066" y="478.3" width="1" height="22.8" fill-opacity="0.50"/><rect x="1066" y="471.9" width="1" height="6.4"/><rect x="1067" y="471.9" width="1" height="6.4"/><rect x="1070" y="471.9" width="1" height="3.7" fill-opacity="0.50"/><rect x="1071" y="471.9" width="1" height="3.7"/><rect x="1072" y="471.9" width="1" height="9.8"/><rect x="1073" y="471.9" width="1" height="9.8"/><rect x="1076" y="471.9" width="1" height="8.7"/><rect x="1077" y="480.6" width="1" height="16.7" fill-opacity="0.50"/><rect x="1077" y="471.9" width="1" height="8.7"/><rect x="1078" y="471.9" width="1" height="25.3"/><rect x="1079" y="481.1" width="1" height="16.1" fill-opacity="0.50"/><rect x="1079" y="471.9" width="1" height="9.2"/><rect x="1080" y="471.9" width="1" height="9.2"/><rect x="1081" y="471.9" width="1" height="9.2" fill-opacity="0.50"/><rect x="1087" y="471.9" width="1" height="13.1"/><rect x="1088" y="471.9" width="1" height="13.1"/><rect x="1089" y="471.9" width="1" height="35.3"/><rect x="1090" y="471.9" width="1" height="35.3" fill-opacity="0.50"/><rect x="1091" y="471.9" width="1" height="43.7"/><rect x="1092" y="471.9" width="1" height="43.7" fill-opacity="0.50"/><rect x="1098" y="471.9" width="1" height="56.4" fill-opacity="0.50"/><rect x="1099" y="471.9" width="1" height="56.4"/><rect x="1100" y="471.9" width="1" height="4.2"/><rect x="1101" y="471.9" width="1" height="4.2"/><rect x="1104" y="471.9" width="1" height="22.4"/><rect x="1105" y="494.3" width="1" height="41.8" fill-opacity="0.50"/><rect x="1105" y="471.9" width="1" height="22.4"/><rect x="1106" y="471.9" width="1" height="64.2"/><rect x="1107" y="524.6" width="1" height="11.6" fill-opacity="0.50"/><rect x="1107" y="471.9" width="1" height="52.7"/><rect x="1108" y="471.9" width="1" height="52.7"/><rect x="1109" y="471.9" width="1" height="52.7" fill-opacity="0.50"/><rect x="1111" y="471.9" width="1" height="54.9" fill-opacity="0.50"/><rect x="1112" y="471.9" width="1" height="54.9"/><rect x="1120" y="471.9" width="1" height="4.2" fill-opacity="0.50"/><rect x="1121" y="471.9" width="1" height="4.2"/><rect x="1122" y="471.9" width="1" height="4.2" fill-opacity="0.50"/><rect x="1126" y="471.9" width="1" height="11.3" fill-opacity="0.50"/><rect x="1127" y="471.9" width="1" height="11.3"/><rect x="1133" y="471.9" width="1" height="35.3" fill-opacity="0.50"/><rect x="1134" y="471.9" width="1" height="35.3"/><rect x="1135" y="471.9" width="1" height="35.3" fill-opacity="0.50"/><rect x="1137" y="471.9" width="1" height="30.9" fill-opacity="0.50"/><rect x="1138" y="471.9" width="1" height="30.9"/><rect x="1154" y="471.9" width="1" height="15.3" fill-opacity="0.50"/><rect x="1155" y="471.9" width="1" height="15.3"/><rect x="1156" y="471.9" width="1" height="26.4"/><rect x="1157" y="471.9" width="1" height="26.4"/><rect x="1165" y="471.9" width="1" height="16.4" fill-opacity="0.50"/><rect x="1166" y="471.9" width="1" height="16.4"/><rect x="1169" y="471.9" width="1" height="6.4"/><rect x="1170" y="471.9" width="1" height="6.4"/><rect x="1171" y="471.9" width="1" height="36.4"/><rect x="1172" y="471.9" width="1" height="36.4"/><rect x="1175" y="471.9" width="1" height="4.2"/><rect x="1176" y="471.9" width="1" height="4.2" fill-opacity="0.50"/><rect x="1182" y="471.9" width="1" height="19.8" fill-opacity="0.50"/><rect x="1183" y="471.9" width="1" height="19.8"/><rect x="1189" y="471.9" width="1" height="34.2" fill-opacity="0.50"/><rect x="1190" y="471.9" width="1" height="34.2"/><rect x="1191" y="506.1" width="1" height="14.4" fill-opacity="0.50"/><rect x="1191" y="471.9" width="1" height="34.2"/><rect x="1192" y="471.9" width="1" height="48.7"/><rect x="1193" y="520.6" width="1" height="15.6" fill-opacity="0.50"/><rect x="1193" y="471.9" width="1" height="48.7"/><rect x="1194" y="471.9" width="1" height="64.2"/><rect x="1195" y="471.9" width="1" height="27.5" fill-opacity="0.50"/><rect x="1196" y="471.9" width="1" height="27.5"/><rect x="1199" y="471.9" width="1" height="10.4"/><rect x="1200" y="471.9" width="1" height="10.4"/><rect x="1201" y="471.9" width="1" height="4.2"/><rect x="1202" y="471.9" width="1" height="4.2" fill-opacity="0.50"/><rect x="1203" y="471.9" width="1" height="6.4"/><rect x="1204" y="478.3" width="1" height="139.6" fill-opacity="0.50"/><rect x="1204" y="471.9" width="1" height="6.4"/><rect x="1205" y="471.9" width="1" height="146.0"/><rect x="1206" y="471.9" width="1" height="146.0" fill-opacity="0.50"/></g>
<path d="M78.3,595.8 L80.8,601.3 L83.0,593.3 L84.7,594.2 L86.7,587.0 L88.3,592.5 L90.8,592.5 L93.3,594.2 L95.8,595.3 L99.2,600.8 L101.7,601.7 L103.7,603.3 L105.8,601.3 L108.3,603.0 L110.8,601.3 L113.0,599.7 L114.7,596.7 L116.3,601.7 L118.3,616.7 L120.3,626.7 L122.2,615.0 L124.2,630.0 L125.8,624.2 L130.0,619.2 L132.5,610.8 L135.0,577.5 L137.0,580.0 L139.2,571.7 L140.8,557.5 L142.5,535.8 L145.0,558.0 L146.7,555.8 L149.2,547.5 L151.7,544.2 L153.3,545.8 L155.8,538.7 L157.5,545.8 L160.0,545.0 L161.7,547.5 L164.2,545.3 L165.8,544.2 L167.0,534.7 L169.2,536.7 L171.7,553.3 L173.3,562.5 L175.0,565.0 L176.7,576.7 L178.3,594.2 L180.3,586.7 L181.7,555.0 L183.7,539.7 L185.8,553.3 L187.5,552.5 L189.7,565.0 L191.7,558.3 L193.7,555.3 L196.7,561.7 L199.2,560.3 L201.7,559.2 L203.0,560.0 L204.7,546.7 L206.7,548.0 L208.3,545.8 L210.3,545.8 L212.0,541.3 L214.2,541.3 L217.5,550.0 L219.5,558.3 L221.7,559.7 L223.7,560.0 L225.8,559.2 L227.0,559.7 L228.7,567.0 L230.8,559.2 L232.5,562.5 L235.0,563.7 L235.8,567.5 L237.8,578.7 L240.0,577.5 L241.7,575.8 L244.2,570.8 L245.8,570.3 L247.5,573.0 L249.2,560.8 L250.8,556.7 L252.5,547.5 L254.2,556.7 L256.3,551.3 L258.3,552.5 L260.8,551.7 L264.2,551.7 L265.8,547.0 L268.0,551.3 L270.0,551.3 L271.7,549.7 L273.7,552.5 L275.8,549.7 L277.8,550.0 L280.8,530.3 L283.3,542.5 L285.0,547.5 L286.7,569.2 L288.7,578.7 L290.8,573.7 L293.0,574.7 L295.0,575.0 L297.5,575.8 L299.7,577.5 L303.0,571.7 L305.0,571.7 L307.0,574.2 L309.2,567.5 L310.8,569.2 L312.5,567.5 L315.0,568.7 L317.5,568.0 L320.0,567.5 L322.0,568.7 L324.2,575.0 L325.8,576.7 L327.5,575.0 L329.7,588.0 L331.7,583.3 L334.2,580.8 L337.0,576.3 L338.7,579.2 L340.8,584.7 L343.0,583.3 L345.0,585.0 L346.7,587.5 L348.7,587.0 L350.8,576.7 L352.5,567.5 L354.2,564.2 L356.7,563.7 L358.0,561.7 L360.0,550.0 L361.7,539.2 L363.8,511.2 L365.5,500.0 L367.0,480.0 L368.0,460.0 L369.0,435.0 L370.0,415.0 L370.8,398.8 L372.0,412.5 L373.0,401.2 L375.0,402.0 L376.8,398.8 L378.0,392.5 L379.5,370.0 L381.2,350.0 L382.0,333.8 L384.5,336.2 L388.8,345.0 L392.5,322.5 L395.0,285.0 L398.0,245.0 L400.5,188.8 L403.0,207.5 L405.8,232.5 L407.5,212.5 L410.0,197.5 L412.0,198.8 L413.8,236.2 L415.8,218.8 L417.5,222.5 L419.5,216.2 L421.2,218.8 L423.0,215.0 L425.8,210.0 L428.2,202.0 L430.8,228.8 L433.0,231.2 L435.0,230.0 L438.0,237.5 L442.0,225.5 L443.8,228.8 L446.2,242.5 L449.5,245.0 L453.0,253.8 L454.4,251.5 L456.3,224.4 L458.0,217.3 L460.3,212.6 L462.7,216.1 L465.1,217.3 L466.2,216.1 L467.9,231.0 L469.8,220.9 L471.4,230.3 L473.3,223.2 L475.2,201.3 L477.3,206.7 L478.7,205.5 L480.4,197.3 L482.8,153.6 L484.6,146.0 L486.8,143.5 L488.2,145.3 L490.3,167.8 L492.2,157.1 L494.1,151.9 L495.7,152.4 L498.1,156.4 L501.2,157.8 L503.5,163.0 L505.9,160.2 L508.2,160.2 L510.6,155.5 L512.7,161.9 L514.6,172.5 L516.5,199.6 L518.2,190.9 L520.0,204.3 L521.7,218.5 L523.6,224.4 L526.4,217.3 L528.1,218.5 L530.4,215.4 L532.3,216.1 L534.2,211.4 L536.6,200.8 L538.7,186.6 L540.6,184.7 L542.5,187.8 L544.1,193.7 L546.0,201.5 L548.1,187.3 L550.0,191.4 L551.7,200.8 L554.7,201.3 L556.4,212.6 L557.6,227.9 L559.5,226.8 L561.1,237.4 L563.0,239.0 L564.9,244.0 L566.5,240.4 L568.2,170.6 L570.5,218.5 L572.4,212.6 L576.0,199.6 L577.9,218.5 L580.2,226.8 L581.9,243.3 L583.8,258.6 L585.9,238.6 L587.5,233.8 L589.4,231.5 L591.3,222.0 L593.0,219.2 L594.9,227.9 L596.5,224.4 L598.4,229.1 L600.3,204.3 L602.6,216.8 L603.3,219.2 L605.3,220.0 L607.5,214.2 L609.2,212.5 L611.3,213.3 L613.0,222.5 L615.0,224.2 L616.7,235.0 L618.7,245.0 L620.8,245.8 L622.8,250.0 L624.7,245.0 L626.3,258.0 L628.3,250.0 L630.0,245.8 L632.0,245.0 L633.3,270.0 L635.0,272.5 L636.3,277.5 L637.7,286.3 L639.7,255.0 L641.3,264.7 L643.0,256.7 L644.7,243.0 L646.7,246.7 L648.7,247.0 L650.8,251.3 L653.3,252.5 L655.8,253.3 L658.0,251.3 L660.0,251.7 L661.7,250.8 L663.7,237.5 L665.3,236.3 L667.5,238.3 L669.7,240.0 L671.3,238.3 L672.8,232.5 L674.7,228.7 L676.7,235.0 L678.3,239.2 L680.8,237.5 L683.0,238.3 L685.0,241.3 L687.0,245.3 L689.2,243.3 L691.7,246.3 L693.3,225.8 L695.3,223.7 L697.5,211.3 L699.2,220.8 L700.8,206.7 L702.8,200.8 L704.7,203.3 L706.7,218.8 L708.7,220.0 L710.3,222.5 L712.0,215.3 L714.2,220.8 L716.2,221.7 L718.3,216.7 L719.7,215.0 L721.7,228.3 L723.3,225.0 L725.3,223.7 L727.0,226.3 L729.2,226.7 L730.8,230.0 L733.0,234.2 L734.7,244.2 L736.7,242.0 L739.2,240.0 L741.7,234.2 L743.7,239.2 L745.8,249.7 L747.5,244.2 L749.2,241.3 L750.8,233.3 L753.3,225.8 L755.8,227.5 L758.0,232.5 L759.0,236.7 L761.2,243.3 L763.4,244.4 L765.0,241.1 L766.6,234.9 L768.3,242.2 L771.0,242.9 L772.8,244.4 L775.0,251.1 L777.2,258.4 L779.4,244.4 L781.2,240.0 L782.8,239.3 L785.0,248.2 L786.6,243.3 L789.4,238.9 L792.3,234.9 L794.6,240.7 L796.1,234.4 L798.3,232.2 L801.2,236.7 L803.4,231.1 L805.7,230.4 L807.9,225.6 L809.4,215.6 L811.0,204.4 L812.8,187.8 L815.0,185.1 L817.2,173.3 L818.3,168.2 L820.1,169.6 L821.7,163.3 L822.8,151.1 L824.3,130.4 L826.1,134.0 L828.3,132.7 L830.6,129.6 L832.3,125.1 L833.9,126.0 L835.4,147.8 L837.2,153.3 L839.9,154.4 L841.7,153.3 L842.8,147.3 L844.6,155.6 L846.6,155.6 L848.3,158.4 L850.6,162.2 L852.3,167.3 L854.3,183.8 L856.1,168.9 L858.3,160.0 L860.1,168.2 L861.7,166.7 L863.4,141.6 L866.1,145.6 L868.3,150.4 L870.6,154.4 L872.3,145.1 L874.6,144.4 L876.1,157.8 L878.3,157.8 L880.6,156.7 L883.9,160.7 L886.1,175.6 L887.7,168.9 L889.4,176.2 L891.7,159.3 L894.6,162.2 L897.2,176.2 L899.4,164.4 L902.1,167.8 L904.3,178.9 L907.2,180.7 L910.1,185.1 L912.3,176.7 L915.0,181.1 L917.2,180.0 L919.4,180.4 L922.8,168.9 L925.0,168.4 L927.2,164.4 L929.4,158.9 L932.1,156.0 L933.9,161.1 L936.1,164.9 L938.3,161.1 L940.6,158.2 L942.3,160.4 L944.6,166.2 L947.2,167.8 L949.4,176.7 L951.7,179.6 L953.2,171.1 L955.0,185.6 L957.2,182.2 L960.1,176.7 L962.3,175.1 L963.9,176.0 L965.4,168.9 L967.9,162.2 L970.1,162.7 L972.1,167.1 L974.3,166.7 L975.7,167.8 L977.2,176.0 L978.8,175.6 L980.6,180.0 L981.7,191.1 L982.8,221.1 L984.6,219.6 L986.1,211.1 L988.3,198.9 L989.9,204.4 L992.1,214.4 L993.9,223.3 L995.7,227.8 L997.9,221.1 L999.9,217.8 L1001.7,208.9 L1003.2,212.9 L1005.0,220.4 L1006.8,216.7 L1008.3,210.0 L1010.6,200.0 L1012.8,195.1 L1015.0,196.0 L1017.2,200.4 L1018.8,205.6 L1020.6,213.8 L1022.3,206.7 L1023.9,206.7 L1026.1,205.6 L1027.7,221.1 L1029.4,236.7 L1031.7,224.0 L1033.2,236.7 L1035.4,226.7 L1037.7,228.9 L1039.4,214.4 L1041.0,206.7 L1043.2,218.9 L1045.0,220.4 L1047.2,228.4 L1049.0,233.3 L1051.7,236.7 L1053.9,242.2 L1056.1,237.3 L1058.3,251.1 L1060.6,264.4 L1062.3,267.1 L1065.0,255.4 L1066.9,235.6 L1068.7,238.3 L1070.8,236.4 L1073.5,239.6 L1076.1,238.3 L1078.2,242.2 L1080.1,256.8 L1081.4,243.6 L1083.5,239.1 L1085.4,248.8 L1088.0,256.8 L1090.6,256.0 L1093.3,252.8 L1095.1,248.8 L1097.2,256.0 L1099.9,258.1 L1102.5,259.4 L1104.6,266.0 L1106.5,271.3 L1108.3,270.0 L1109.9,276.6 L1111.8,284.5 L1113.6,275.2 L1115.7,270.0 L1118.4,271.3 L1121.0,275.2 L1123.1,277.9 L1125.5,281.3 L1127.6,278.7 L1129.5,276.6 L1131.6,278.7 L1133.7,276.0 L1135.5,280.5 L1138.2,270.0 L1140.0,260.2 L1142.1,256.8 L1143.4,251.5 L1144.2,234.3 L1145.6,223.2 L1147.4,226.4 L1148.7,238.3 L1150.6,244.9 L1152.7,248.8 L1155.3,250.2 L1158.5,254.1 L1160.6,242.2 L1162.7,245.4 L1164.6,251.5 L1167.2,254.1 L1169.1,256.8 L1170.6,263.4 L1172.0,266.0 L1173.8,274.5 L1175.7,268.1 L1177.8,270.0 L1180.4,271.3 L1183.1,281.3 L1185.7,271.8 L1188.3,272.6 L1191.0,285.8 L1192.8,297.7 L1194.9,309.6 L1196.3,314.9 L1198.1,312.2 L1200.2,320.1 L1202.1,326.7 L1203.4,379.5 L1205.5,333.3" fill="none" stroke="#1e1e1e" stroke-width="1.05" stroke-linejoin="round"/>
<rect x="71" y="100" width="2" height="555.5" fill="#f05246"/>
<rect x="1213.3" y="100" width="2" height="556" fill="#111"/>
<rect x="21" y="600" width="51" height="30" fill="#ef3b33"/>
<text x="26.3" y="622" font-size="16" fill="#fff" textLength="41" lengthAdjust="spacingAndGlyphs">-0.02*</text>
<rect x="1214" y="316.5" width="44.5" height="29" fill="#111"/>
<text x="1219" y="338.5" font-size="16" fill="#fff" textLength="35" lengthAdjust="spacingAndGlyphs">$1.4*</text>
<text x="1088" y="702.3" font-size="12" fill="#77777f" textLength="160" lengthAdjust="spacingAndGlyphs">© CryptoQuant. All rights reserved</text>
</svg>
</body></html>
